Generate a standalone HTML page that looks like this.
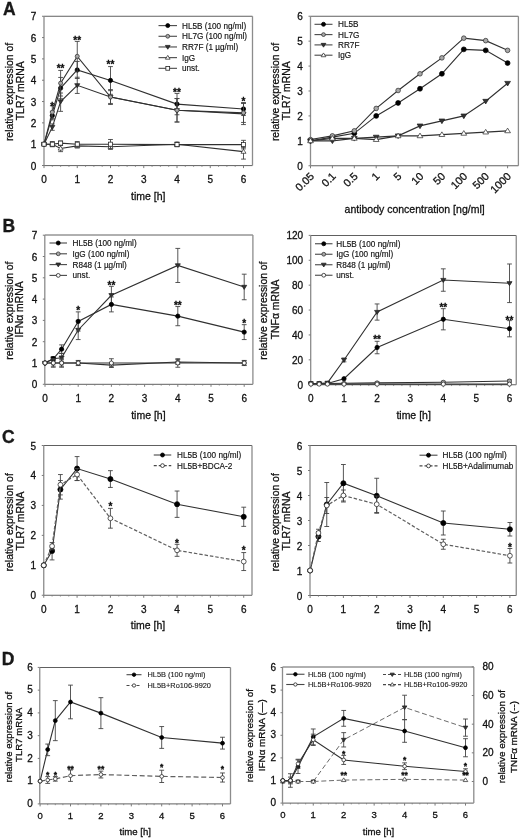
<!DOCTYPE html>
<html><head><meta charset="utf-8"><style>
html,body{margin:0;padding:0;background:#fff;}
svg{display:block;filter:grayscale(1) blur(0.4px);}
svg text{font-family:"Liberation Sans", sans-serif;stroke:#000;stroke-width:0.28px;}
</style></head><body>
<svg width="520" height="840" viewBox="0 0 520 840">
<rect width="520" height="840" fill="#fff"/>
<path d="M44,16.25 H252.5 M44,165.6 H252.5" stroke="#606060" stroke-width="1" fill="none"/>
<path d="M44,16.25 V165.6 M252.5,16.25 V165.6" stroke="#8c8c8c" stroke-width="1.3" fill="none"/>
<line x1="42" y1="165.5" x2="44" y2="165.5" stroke="#7a7a7a" stroke-width="1"/>
<text x="36.4" y="169.5" font-size="10" text-anchor="end" fill="#1a1a1a">0</text>
<line x1="42" y1="144.18" x2="44" y2="144.18" stroke="#7a7a7a" stroke-width="1"/>
<text x="36.4" y="148.18" font-size="10" text-anchor="end" fill="#1a1a1a">1</text>
<line x1="42" y1="122.86" x2="44" y2="122.86" stroke="#7a7a7a" stroke-width="1"/>
<text x="36.4" y="126.86" font-size="10" text-anchor="end" fill="#1a1a1a">2</text>
<line x1="42" y1="101.54" x2="44" y2="101.54" stroke="#7a7a7a" stroke-width="1"/>
<text x="36.4" y="105.54" font-size="10" text-anchor="end" fill="#1a1a1a">3</text>
<line x1="42" y1="80.22" x2="44" y2="80.22" stroke="#7a7a7a" stroke-width="1"/>
<text x="36.4" y="84.22" font-size="10" text-anchor="end" fill="#1a1a1a">4</text>
<line x1="42" y1="58.9" x2="44" y2="58.9" stroke="#7a7a7a" stroke-width="1"/>
<text x="36.4" y="62.9" font-size="10" text-anchor="end" fill="#1a1a1a">5</text>
<line x1="42" y1="37.58" x2="44" y2="37.58" stroke="#7a7a7a" stroke-width="1"/>
<text x="36.4" y="41.58" font-size="10" text-anchor="end" fill="#1a1a1a">6</text>
<line x1="42" y1="16.26" x2="44" y2="16.26" stroke="#7a7a7a" stroke-width="1"/>
<text x="36.4" y="20.26" font-size="10" text-anchor="end" fill="#1a1a1a">7</text>
<line x1="44" y1="165.6" x2="44" y2="168.1" stroke="#7a7a7a" stroke-width="1"/>
<text x="44" y="182.9" font-size="10" text-anchor="middle" fill="#1a1a1a">0</text>
<line x1="77.25" y1="165.6" x2="77.25" y2="168.1" stroke="#7a7a7a" stroke-width="1"/>
<text x="77.25" y="182.9" font-size="10" text-anchor="middle" fill="#1a1a1a">1</text>
<line x1="110.5" y1="165.6" x2="110.5" y2="168.1" stroke="#7a7a7a" stroke-width="1"/>
<text x="110.5" y="182.9" font-size="10" text-anchor="middle" fill="#1a1a1a">2</text>
<line x1="143.75" y1="165.6" x2="143.75" y2="168.1" stroke="#7a7a7a" stroke-width="1"/>
<text x="143.75" y="182.9" font-size="10" text-anchor="middle" fill="#1a1a1a">3</text>
<line x1="177" y1="165.6" x2="177" y2="168.1" stroke="#7a7a7a" stroke-width="1"/>
<text x="177" y="182.9" font-size="10" text-anchor="middle" fill="#1a1a1a">4</text>
<line x1="210.25" y1="165.6" x2="210.25" y2="168.1" stroke="#7a7a7a" stroke-width="1"/>
<text x="210.25" y="182.9" font-size="10" text-anchor="middle" fill="#1a1a1a">5</text>
<line x1="243.5" y1="165.6" x2="243.5" y2="168.1" stroke="#7a7a7a" stroke-width="1"/>
<text x="243.5" y="182.9" font-size="10" text-anchor="middle" fill="#1a1a1a">6</text>
<line x1="52.31" y1="165.6" x2="52.31" y2="166.9" stroke="#7a7a7a" stroke-width="0.8"/>
<line x1="60.62" y1="165.6" x2="60.62" y2="166.9" stroke="#7a7a7a" stroke-width="0.8"/>
<line x1="68.94" y1="165.6" x2="68.94" y2="166.9" stroke="#7a7a7a" stroke-width="0.8"/>
<line x1="85.56" y1="165.6" x2="85.56" y2="166.9" stroke="#7a7a7a" stroke-width="0.8"/>
<line x1="93.88" y1="165.6" x2="93.88" y2="166.9" stroke="#7a7a7a" stroke-width="0.8"/>
<line x1="102.19" y1="165.6" x2="102.19" y2="166.9" stroke="#7a7a7a" stroke-width="0.8"/>
<line x1="118.81" y1="165.6" x2="118.81" y2="166.9" stroke="#7a7a7a" stroke-width="0.8"/>
<line x1="127.12" y1="165.6" x2="127.12" y2="166.9" stroke="#7a7a7a" stroke-width="0.8"/>
<line x1="135.44" y1="165.6" x2="135.44" y2="166.9" stroke="#7a7a7a" stroke-width="0.8"/>
<line x1="152.06" y1="165.6" x2="152.06" y2="166.9" stroke="#7a7a7a" stroke-width="0.8"/>
<line x1="160.38" y1="165.6" x2="160.38" y2="166.9" stroke="#7a7a7a" stroke-width="0.8"/>
<line x1="168.69" y1="165.6" x2="168.69" y2="166.9" stroke="#7a7a7a" stroke-width="0.8"/>
<line x1="185.31" y1="165.6" x2="185.31" y2="166.9" stroke="#7a7a7a" stroke-width="0.8"/>
<line x1="193.62" y1="165.6" x2="193.62" y2="166.9" stroke="#7a7a7a" stroke-width="0.8"/>
<line x1="201.94" y1="165.6" x2="201.94" y2="166.9" stroke="#7a7a7a" stroke-width="0.8"/>
<line x1="218.56" y1="165.6" x2="218.56" y2="166.9" stroke="#7a7a7a" stroke-width="0.8"/>
<line x1="226.88" y1="165.6" x2="226.88" y2="166.9" stroke="#7a7a7a" stroke-width="0.8"/>
<line x1="235.19" y1="165.6" x2="235.19" y2="166.9" stroke="#7a7a7a" stroke-width="0.8"/>
<text x="3" y="14.5" font-size="17.5" text-anchor="start" font-weight="bold" fill="#1a1a1a">A</text>
<text transform="translate(12.9,92) rotate(-90)" font-size="10.4" text-anchor="middle" fill="#1a1a1a">relative expression of</text>
<text transform="translate(23.6,90.8) rotate(-90)" font-size="10.4" text-anchor="middle" fill="#1a1a1a">TLR7 mRNA</text>
<text x="148.2" y="200" font-size="10.5" text-anchor="middle" fill="#1a1a1a">time [h]</text>
<polyline points="44,144.18 52.31,115.61 60.62,88.11 77.25,69.99 110.5,80.43 177,104.1 243.5,109" fill="none" stroke="#303030" stroke-width="1.1"/>
<path d="M52.31,115.61 V111.35 M49.91,111.35 H54.71" stroke="#444" stroke-width="0.9" fill="none"/>
<path d="M52.31,115.61 V119.88 M49.91,119.88 H54.71" stroke="#444" stroke-width="0.9" fill="none"/>
<path d="M60.62,88.11 V77.45 M58.23,77.45 H63.02" stroke="#444" stroke-width="0.9" fill="none"/>
<path d="M60.62,88.11 V98.77 M58.23,98.77 H63.02" stroke="#444" stroke-width="0.9" fill="none"/>
<path d="M77.25,69.99 V61.46 M74.85,61.46 H79.65" stroke="#444" stroke-width="0.9" fill="none"/>
<path d="M77.25,69.99 V78.51 M74.85,78.51 H79.65" stroke="#444" stroke-width="0.9" fill="none"/>
<path d="M110.5,80.43 V66.58 M108.1,66.58 H112.9" stroke="#444" stroke-width="0.9" fill="none"/>
<path d="M110.5,80.43 V94.29 M108.1,94.29 H112.9" stroke="#444" stroke-width="0.9" fill="none"/>
<path d="M177,104.1 V93.44 M174.6,93.44 H179.4" stroke="#444" stroke-width="0.9" fill="none"/>
<path d="M177,104.1 V114.76 M174.6,114.76 H179.4" stroke="#444" stroke-width="0.9" fill="none"/>
<path d="M243.5,109 V102.61 M241.1,102.61 H245.9" stroke="#444" stroke-width="0.9" fill="none"/>
<path d="M243.5,109 V115.4 M241.1,115.4 H245.9" stroke="#444" stroke-width="0.9" fill="none"/>
<circle cx="44" cy="144.18" r="2.15" fill="#000" stroke="#000" stroke-width="0.75"/>
<circle cx="52.31" cy="115.61" r="2.15" fill="#000" stroke="#000" stroke-width="0.75"/>
<circle cx="60.62" cy="88.11" r="2.15" fill="#000" stroke="#000" stroke-width="0.75"/>
<circle cx="77.25" cy="69.99" r="2.15" fill="#000" stroke="#000" stroke-width="0.75"/>
<circle cx="110.5" cy="80.43" r="2.15" fill="#000" stroke="#000" stroke-width="0.75"/>
<circle cx="177" cy="104.1" r="2.15" fill="#000" stroke="#000" stroke-width="0.75"/>
<circle cx="243.5" cy="109" r="2.15" fill="#000" stroke="#000" stroke-width="0.75"/>
<polyline points="44,144.18 52.31,127.12 60.62,101.54 77.25,85.34 110.5,97.06 177,110.28 243.5,113.91" fill="none" stroke="#303030" stroke-width="1.1"/>
<path d="M52.31,127.12 V123.93 M49.91,123.93 H54.71" stroke="#444" stroke-width="0.9" fill="none"/>
<path d="M52.31,127.12 V130.32 M49.91,130.32 H54.71" stroke="#444" stroke-width="0.9" fill="none"/>
<path d="M60.62,101.54 V93.01 M58.23,93.01 H63.02" stroke="#444" stroke-width="0.9" fill="none"/>
<path d="M60.62,101.54 V111.35 M58.23,111.35 H63.02" stroke="#444" stroke-width="0.9" fill="none"/>
<path d="M77.25,85.34 V77.24 M74.85,77.24 H79.65" stroke="#444" stroke-width="0.9" fill="none"/>
<path d="M77.25,85.34 V93.44 M74.85,93.44 H79.65" stroke="#444" stroke-width="0.9" fill="none"/>
<path d="M110.5,97.06 V90.67 M108.1,90.67 H112.9" stroke="#444" stroke-width="0.9" fill="none"/>
<path d="M110.5,97.06 V103.46 M108.1,103.46 H112.9" stroke="#444" stroke-width="0.9" fill="none"/>
<path d="M177,110.28 V98.56 M174.6,98.56 H179.4" stroke="#444" stroke-width="0.9" fill="none"/>
<path d="M177,110.28 V122.01 M174.6,122.01 H179.4" stroke="#444" stroke-width="0.9" fill="none"/>
<path d="M243.5,113.91 V103.25 M241.1,103.25 H245.9" stroke="#444" stroke-width="0.9" fill="none"/>
<path d="M243.5,113.91 V124.57 M241.1,124.57 H245.9" stroke="#444" stroke-width="0.9" fill="none"/>
<path d="M41.47,142.53 L46.53,142.53 L44,146.6 Z" fill="#333" stroke="#222" stroke-width="0.75"/>
<path d="M49.78,125.47 L54.84,125.47 L52.31,129.54 Z" fill="#333" stroke="#222" stroke-width="0.75"/>
<path d="M58.09,99.89 L63.16,99.89 L60.62,103.96 Z" fill="#333" stroke="#222" stroke-width="0.75"/>
<path d="M74.72,83.69 L79.78,83.69 L77.25,87.76 Z" fill="#333" stroke="#222" stroke-width="0.75"/>
<path d="M107.97,95.41 L113.03,95.41 L110.5,99.48 Z" fill="#333" stroke="#222" stroke-width="0.75"/>
<path d="M174.47,108.63 L179.53,108.63 L177,112.7 Z" fill="#333" stroke="#222" stroke-width="0.75"/>
<path d="M240.97,112.26 L246.03,112.26 L243.5,116.33 Z" fill="#333" stroke="#222" stroke-width="0.75"/>
<polyline points="44,144.18 52.31,112.2 60.62,83.2 77.25,56.34 110.5,97.06 177,110.28 243.5,112.84" fill="none" stroke="#303030" stroke-width="1.1"/>
<path d="M52.31,112.2 V105.8 M49.91,105.8 H54.71" stroke="#444" stroke-width="0.9" fill="none"/>
<path d="M52.31,112.2 V118.6 M49.91,118.6 H54.71" stroke="#444" stroke-width="0.9" fill="none"/>
<path d="M60.62,83.2 V70.41 M58.23,70.41 H63.02" stroke="#444" stroke-width="0.9" fill="none"/>
<path d="M60.62,83.2 V96 M58.23,96 H63.02" stroke="#444" stroke-width="0.9" fill="none"/>
<path d="M77.25,56.34 V41.42 M74.85,41.42 H79.65" stroke="#444" stroke-width="0.9" fill="none"/>
<path d="M77.25,56.34 V71.27 M74.85,71.27 H79.65" stroke="#444" stroke-width="0.9" fill="none"/>
<path d="M110.5,97.06 V89.6 M108.1,89.6 H112.9" stroke="#444" stroke-width="0.9" fill="none"/>
<path d="M110.5,97.06 V104.52 M108.1,104.52 H112.9" stroke="#444" stroke-width="0.9" fill="none"/>
<path d="M177,110.28 V98.56 M174.6,98.56 H179.4" stroke="#444" stroke-width="0.9" fill="none"/>
<path d="M177,110.28 V122.01 M174.6,122.01 H179.4" stroke="#444" stroke-width="0.9" fill="none"/>
<path d="M243.5,112.84 V103.25 M241.1,103.25 H245.9" stroke="#444" stroke-width="0.9" fill="none"/>
<path d="M243.5,112.84 V122.43 M241.1,122.43 H245.9" stroke="#444" stroke-width="0.9" fill="none"/>
<circle cx="44" cy="144.18" r="2.04" fill="#a8a8a8" stroke="#333" stroke-width="0.75"/>
<circle cx="52.31" cy="112.2" r="2.04" fill="#a8a8a8" stroke="#333" stroke-width="0.75"/>
<circle cx="60.62" cy="83.2" r="2.04" fill="#a8a8a8" stroke="#333" stroke-width="0.75"/>
<circle cx="77.25" cy="56.34" r="2.04" fill="#a8a8a8" stroke="#333" stroke-width="0.75"/>
<circle cx="110.5" cy="97.06" r="2.04" fill="#a8a8a8" stroke="#333" stroke-width="0.75"/>
<circle cx="177" cy="110.28" r="2.04" fill="#a8a8a8" stroke="#333" stroke-width="0.75"/>
<circle cx="243.5" cy="112.84" r="2.04" fill="#a8a8a8" stroke="#333" stroke-width="0.75"/>
<polyline points="44,144.18 52.31,144.18 60.62,148.44 77.25,145.89 110.5,146.74 177,144.18 243.5,151.64" fill="none" stroke="#303030" stroke-width="1.1"/>
<path d="M52.31,144.18 V142.05 M49.91,142.05 H54.71" stroke="#444" stroke-width="0.9" fill="none"/>
<path d="M52.31,144.18 V146.31 M49.91,146.31 H54.71" stroke="#444" stroke-width="0.9" fill="none"/>
<path d="M60.62,148.44 V145.25 M58.23,145.25 H63.02" stroke="#444" stroke-width="0.9" fill="none"/>
<path d="M60.62,148.44 V151.64 M58.23,151.64 H63.02" stroke="#444" stroke-width="0.9" fill="none"/>
<path d="M77.25,145.89 V143.75 M74.85,143.75 H79.65" stroke="#444" stroke-width="0.9" fill="none"/>
<path d="M77.25,145.89 V148.02 M74.85,148.02 H79.65" stroke="#444" stroke-width="0.9" fill="none"/>
<path d="M110.5,146.74 V144.18 M108.1,144.18 H112.9" stroke="#444" stroke-width="0.9" fill="none"/>
<path d="M110.5,146.74 V149.3 M108.1,149.3 H112.9" stroke="#444" stroke-width="0.9" fill="none"/>
<path d="M177,144.18 V142.05 M174.6,142.05 H179.4" stroke="#444" stroke-width="0.9" fill="none"/>
<path d="M177,144.18 V146.31 M174.6,146.31 H179.4" stroke="#444" stroke-width="0.9" fill="none"/>
<path d="M243.5,151.64 V147.38 M241.1,147.38 H245.9" stroke="#444" stroke-width="0.9" fill="none"/>
<path d="M243.5,151.64 V159.1 M241.1,159.1 H245.9" stroke="#444" stroke-width="0.9" fill="none"/>
<path d="M41.47,145.83 L46.53,145.83 L44,141.76 Z" fill="#fff" stroke="#333" stroke-width="0.75"/>
<path d="M49.78,145.83 L54.84,145.83 L52.31,141.76 Z" fill="#fff" stroke="#333" stroke-width="0.75"/>
<path d="M58.09,150.09 L63.16,150.09 L60.62,146.02 Z" fill="#fff" stroke="#333" stroke-width="0.75"/>
<path d="M74.72,147.54 L79.78,147.54 L77.25,143.47 Z" fill="#fff" stroke="#333" stroke-width="0.75"/>
<path d="M107.97,148.39 L113.03,148.39 L110.5,144.32 Z" fill="#fff" stroke="#333" stroke-width="0.75"/>
<path d="M174.47,145.83 L179.53,145.83 L177,141.76 Z" fill="#fff" stroke="#333" stroke-width="0.75"/>
<path d="M240.97,153.29 L246.03,153.29 L243.5,149.22 Z" fill="#fff" stroke="#333" stroke-width="0.75"/>
<polyline points="44,144.18 52.31,144.18 60.62,143.11 77.25,144.18 110.5,144.18 177,144.61 243.5,144.61" fill="none" stroke="#303030" stroke-width="1.1"/>
<path d="M52.31,144.18 V141.62 M49.91,141.62 H54.71" stroke="#444" stroke-width="0.9" fill="none"/>
<path d="M52.31,144.18 V146.74 M49.91,146.74 H54.71" stroke="#444" stroke-width="0.9" fill="none"/>
<path d="M60.62,143.11 V140.98 M58.23,140.98 H63.02" stroke="#444" stroke-width="0.9" fill="none"/>
<path d="M60.62,143.11 V145.25 M58.23,145.25 H63.02" stroke="#444" stroke-width="0.9" fill="none"/>
<path d="M77.25,144.18 V141.62 M74.85,141.62 H79.65" stroke="#444" stroke-width="0.9" fill="none"/>
<path d="M77.25,144.18 V146.74 M74.85,146.74 H79.65" stroke="#444" stroke-width="0.9" fill="none"/>
<path d="M110.5,144.18 V139.49 M108.1,139.49 H112.9" stroke="#444" stroke-width="0.9" fill="none"/>
<path d="M110.5,144.18 V148.87 M108.1,148.87 H112.9" stroke="#444" stroke-width="0.9" fill="none"/>
<path d="M177,144.61 V142.47 M174.6,142.47 H179.4" stroke="#444" stroke-width="0.9" fill="none"/>
<path d="M177,144.61 V146.74 M174.6,146.74 H179.4" stroke="#444" stroke-width="0.9" fill="none"/>
<path d="M243.5,144.61 V140.34 M241.1,140.34 H245.9" stroke="#444" stroke-width="0.9" fill="none"/>
<path d="M243.5,144.61 V148.87 M241.1,148.87 H245.9" stroke="#444" stroke-width="0.9" fill="none"/>
<rect x="41.97" y="142.15" width="4.07" height="4.07" fill="#fff" stroke="#222" stroke-width="0.75"/>
<rect x="50.28" y="142.15" width="4.07" height="4.07" fill="#fff" stroke="#222" stroke-width="0.75"/>
<rect x="58.59" y="141.08" width="4.07" height="4.07" fill="#fff" stroke="#222" stroke-width="0.75"/>
<rect x="75.22" y="142.15" width="4.07" height="4.07" fill="#fff" stroke="#222" stroke-width="0.75"/>
<rect x="108.47" y="142.15" width="4.07" height="4.07" fill="#fff" stroke="#222" stroke-width="0.75"/>
<rect x="174.97" y="142.57" width="4.07" height="4.07" fill="#fff" stroke="#222" stroke-width="0.75"/>
<rect x="241.47" y="142.57" width="4.07" height="4.07" fill="#fff" stroke="#222" stroke-width="0.75"/>
<text x="52.31" y="109.7" font-size="10" font-weight="bold" text-anchor="middle" fill="#111">*</text>
<text x="60.62" y="72.4" font-size="10" font-weight="bold" text-anchor="middle" fill="#111">**</text>
<text x="77.25" y="44" font-size="10" font-weight="bold" text-anchor="middle" fill="#111">**</text>
<text x="110.5" y="68.4" font-size="10" font-weight="bold" text-anchor="middle" fill="#111">**</text>
<text x="177" y="95.5" font-size="10" font-weight="bold" text-anchor="middle" fill="#111">**</text>
<text x="243.5" y="104.5" font-size="10" font-weight="bold" text-anchor="middle" fill="#111">*</text>
<line x1="158.5" y1="25.6" x2="177" y2="25.6" stroke="#484848" stroke-width="1.1"/>
<circle cx="167.75" cy="25.6" r="2" fill="#000" stroke="#000" stroke-width="0.8"/>
<text x="182" y="28.55" font-size="8.2" fill="#1a1a1a" style="stroke-width:0.15px">HL5B (100 ng/ml)</text>
<line x1="158.5" y1="36.28" x2="177" y2="36.28" stroke="#484848" stroke-width="1.1"/>
<circle cx="167.75" cy="36.28" r="1.9" fill="#a8a8a8" stroke="#333" stroke-width="0.8"/>
<text x="182" y="39.23" font-size="8.2" fill="#1a1a1a" style="stroke-width:0.15px">HL7G (100 ng/ml)</text>
<line x1="158.5" y1="46.96" x2="177" y2="46.96" stroke="#484848" stroke-width="1.1"/>
<path d="M165.39,45.42 L170.11,45.42 L167.75,49.22 Z" fill="#333" stroke="#222" stroke-width="0.8"/>
<text x="182" y="49.91" font-size="8.2" fill="#1a1a1a" style="stroke-width:0.15px">RR7F (1 µg/ml)</text>
<line x1="158.5" y1="57.64" x2="177" y2="57.64" stroke="#484848" stroke-width="1.1"/>
<path d="M165.39,59.18 L170.11,59.18 L167.75,55.38 Z" fill="#fff" stroke="#333" stroke-width="0.8"/>
<text x="182" y="60.59" font-size="8.2" fill="#1a1a1a" style="stroke-width:0.15px">IgG</text>
<line x1="158.5" y1="68.32" x2="177" y2="68.32" stroke="#484848" stroke-width="1.1"/>
<rect x="165.85" y="66.42" width="3.79" height="3.79" fill="#fff" stroke="#222" stroke-width="0.8"/>
<text x="182" y="71.27" font-size="8.2" fill="#1a1a1a" style="stroke-width:0.15px">unst.</text>
<path d="M310.5,16.25 H518.4 M310.5,165.75 H518.4" stroke="#606060" stroke-width="1" fill="none"/>
<path d="M310.5,16.25 V165.75 M518.4,16.25 V165.75" stroke="#8c8c8c" stroke-width="1.3" fill="none"/>
<line x1="308.5" y1="165.75" x2="310.5" y2="165.75" stroke="#7a7a7a" stroke-width="1"/>
<text x="302.9" y="169.75" font-size="10" text-anchor="end" fill="#1a1a1a">0</text>
<line x1="308.5" y1="140.83" x2="310.5" y2="140.83" stroke="#7a7a7a" stroke-width="1"/>
<text x="302.9" y="144.83" font-size="10" text-anchor="end" fill="#1a1a1a">1</text>
<line x1="308.5" y1="115.91" x2="310.5" y2="115.91" stroke="#7a7a7a" stroke-width="1"/>
<text x="302.9" y="119.91" font-size="10" text-anchor="end" fill="#1a1a1a">2</text>
<line x1="308.5" y1="90.99" x2="310.5" y2="90.99" stroke="#7a7a7a" stroke-width="1"/>
<text x="302.9" y="94.99" font-size="10" text-anchor="end" fill="#1a1a1a">3</text>
<line x1="308.5" y1="66.07" x2="310.5" y2="66.07" stroke="#7a7a7a" stroke-width="1"/>
<text x="302.9" y="70.07" font-size="10" text-anchor="end" fill="#1a1a1a">4</text>
<line x1="308.5" y1="41.15" x2="310.5" y2="41.15" stroke="#7a7a7a" stroke-width="1"/>
<text x="302.9" y="45.15" font-size="10" text-anchor="end" fill="#1a1a1a">5</text>
<line x1="308.5" y1="16.23" x2="310.5" y2="16.23" stroke="#7a7a7a" stroke-width="1"/>
<text x="302.9" y="20.23" font-size="10" text-anchor="end" fill="#1a1a1a">6</text>
<line x1="310.5" y1="165.75" x2="310.5" y2="168.25" stroke="#7a7a7a" stroke-width="1"/>
<text transform="translate(309,171.25) rotate(-45)" font-size="10.8" text-anchor="end" fill="#1a1a1a" dominant-baseline="hanging">0.05</text>
<line x1="332.4" y1="165.75" x2="332.4" y2="168.25" stroke="#7a7a7a" stroke-width="1"/>
<text transform="translate(330.9,171.25) rotate(-45)" font-size="10.8" text-anchor="end" fill="#1a1a1a" dominant-baseline="hanging">0.1</text>
<line x1="354.3" y1="165.75" x2="354.3" y2="168.25" stroke="#7a7a7a" stroke-width="1"/>
<text transform="translate(352.8,171.25) rotate(-45)" font-size="10.8" text-anchor="end" fill="#1a1a1a" dominant-baseline="hanging">0.5</text>
<line x1="376.2" y1="165.75" x2="376.2" y2="168.25" stroke="#7a7a7a" stroke-width="1"/>
<text transform="translate(374.7,171.25) rotate(-45)" font-size="10.8" text-anchor="end" fill="#1a1a1a" dominant-baseline="hanging">1</text>
<line x1="398.1" y1="165.75" x2="398.1" y2="168.25" stroke="#7a7a7a" stroke-width="1"/>
<text transform="translate(396.6,171.25) rotate(-45)" font-size="10.8" text-anchor="end" fill="#1a1a1a" dominant-baseline="hanging">5</text>
<line x1="420" y1="165.75" x2="420" y2="168.25" stroke="#7a7a7a" stroke-width="1"/>
<text transform="translate(418.5,171.25) rotate(-45)" font-size="10.8" text-anchor="end" fill="#1a1a1a" dominant-baseline="hanging">10</text>
<line x1="441.9" y1="165.75" x2="441.9" y2="168.25" stroke="#7a7a7a" stroke-width="1"/>
<text transform="translate(440.4,171.25) rotate(-45)" font-size="10.8" text-anchor="end" fill="#1a1a1a" dominant-baseline="hanging">50</text>
<line x1="463.8" y1="165.75" x2="463.8" y2="168.25" stroke="#7a7a7a" stroke-width="1"/>
<text transform="translate(462.3,171.25) rotate(-45)" font-size="10.8" text-anchor="end" fill="#1a1a1a" dominant-baseline="hanging">100</text>
<line x1="485.7" y1="165.75" x2="485.7" y2="168.25" stroke="#7a7a7a" stroke-width="1"/>
<text transform="translate(484.2,171.25) rotate(-45)" font-size="10.8" text-anchor="end" fill="#1a1a1a" dominant-baseline="hanging">500</text>
<line x1="507.6" y1="165.75" x2="507.6" y2="168.25" stroke="#7a7a7a" stroke-width="1"/>
<text transform="translate(506.1,171.25) rotate(-45)" font-size="10.8" text-anchor="end" fill="#1a1a1a" dominant-baseline="hanging">1000</text>
<text transform="translate(279,92) rotate(-90)" font-size="10.4" text-anchor="middle" fill="#1a1a1a">relative expression of</text>
<text transform="translate(290,90.8) rotate(-90)" font-size="10.4" text-anchor="middle" fill="#1a1a1a">TLR7 mRNA</text>
<text x="414.6" y="213.4" font-size="10.5" text-anchor="middle" fill="#1a1a1a">antibody concentration [ng/ml]</text>
<polyline points="310.5,140.83 332.4,137.09 354.3,133.35 376.2,115.91 398.1,102.95 420,88.75 441.9,73.8 463.8,49.37 485.7,50.37 507.6,63.08" fill="none" stroke="#303030" stroke-width="1.1"/>
<circle cx="310.5" cy="140.83" r="2.44" fill="#000" stroke="#000" stroke-width="0.75"/>
<circle cx="332.4" cy="137.09" r="2.44" fill="#000" stroke="#000" stroke-width="0.75"/>
<circle cx="354.3" cy="133.35" r="2.44" fill="#000" stroke="#000" stroke-width="0.75"/>
<circle cx="376.2" cy="115.91" r="2.44" fill="#000" stroke="#000" stroke-width="0.75"/>
<circle cx="398.1" cy="102.95" r="2.44" fill="#000" stroke="#000" stroke-width="0.75"/>
<circle cx="420" cy="88.75" r="2.44" fill="#000" stroke="#000" stroke-width="0.75"/>
<circle cx="441.9" cy="73.8" r="2.44" fill="#000" stroke="#000" stroke-width="0.75"/>
<circle cx="463.8" cy="49.37" r="2.44" fill="#000" stroke="#000" stroke-width="0.75"/>
<circle cx="485.7" cy="50.37" r="2.44" fill="#000" stroke="#000" stroke-width="0.75"/>
<circle cx="507.6" cy="63.08" r="2.44" fill="#000" stroke="#000" stroke-width="0.75"/>
<polyline points="310.5,139.58 332.4,135.85 354.3,130.86 376.2,108.43 398.1,90.49 420,73.8 441.9,57.85 463.8,38.16 485.7,40.65 507.6,50.37" fill="none" stroke="#303030" stroke-width="1.1"/>
<circle cx="310.5" cy="139.58" r="2.31" fill="#a8a8a8" stroke="#333" stroke-width="0.75"/>
<circle cx="332.4" cy="135.85" r="2.31" fill="#a8a8a8" stroke="#333" stroke-width="0.75"/>
<circle cx="354.3" cy="130.86" r="2.31" fill="#a8a8a8" stroke="#333" stroke-width="0.75"/>
<circle cx="376.2" cy="108.43" r="2.31" fill="#a8a8a8" stroke="#333" stroke-width="0.75"/>
<circle cx="398.1" cy="90.49" r="2.31" fill="#a8a8a8" stroke="#333" stroke-width="0.75"/>
<circle cx="420" cy="73.8" r="2.31" fill="#a8a8a8" stroke="#333" stroke-width="0.75"/>
<circle cx="441.9" cy="57.85" r="2.31" fill="#a8a8a8" stroke="#333" stroke-width="0.75"/>
<circle cx="463.8" cy="38.16" r="2.31" fill="#a8a8a8" stroke="#333" stroke-width="0.75"/>
<circle cx="485.7" cy="40.65" r="2.31" fill="#a8a8a8" stroke="#333" stroke-width="0.75"/>
<circle cx="507.6" cy="50.37" r="2.31" fill="#a8a8a8" stroke="#333" stroke-width="0.75"/>
<polyline points="310.5,140.83 332.4,140.83 354.3,138.34 376.2,137.09 398.1,135.85 420,125.88 441.9,120.89 463.8,115.91 485.7,101.21 507.6,83.26" fill="none" stroke="#303030" stroke-width="1.1"/>
<path d="M307.62,138.95 L313.38,138.95 L310.5,143.58 Z" fill="#333" stroke="#222" stroke-width="0.75"/>
<path d="M329.52,138.95 L335.27,138.95 L332.4,143.58 Z" fill="#333" stroke="#222" stroke-width="0.75"/>
<path d="M351.43,136.46 L357.18,136.46 L354.3,141.09 Z" fill="#333" stroke="#222" stroke-width="0.75"/>
<path d="M373.32,135.22 L379.07,135.22 L376.2,139.84 Z" fill="#333" stroke="#222" stroke-width="0.75"/>
<path d="M395.23,133.97 L400.98,133.97 L398.1,138.6 Z" fill="#333" stroke="#222" stroke-width="0.75"/>
<path d="M417.12,124 L422.88,124 L420,128.63 Z" fill="#333" stroke="#222" stroke-width="0.75"/>
<path d="M439.02,119.02 L444.77,119.02 L441.9,123.64 Z" fill="#333" stroke="#222" stroke-width="0.75"/>
<path d="M460.92,114.03 L466.67,114.03 L463.8,118.66 Z" fill="#333" stroke="#222" stroke-width="0.75"/>
<path d="M482.82,99.33 L488.57,99.33 L485.7,103.96 Z" fill="#333" stroke="#222" stroke-width="0.75"/>
<path d="M504.73,81.39 L510.48,81.39 L507.6,86.01 Z" fill="#333" stroke="#222" stroke-width="0.75"/>
<polyline points="310.5,140.83 332.4,138.34 354.3,138.34 376.2,139.58 398.1,135.85 420,135.85 441.9,134.6 463.8,133.35 485.7,132.11 507.6,130.86" fill="none" stroke="#303030" stroke-width="1.1"/>
<path d="M307.62,142.7 L313.38,142.7 L310.5,138.08 Z" fill="#fff" stroke="#333" stroke-width="0.75"/>
<path d="M329.52,140.21 L335.27,140.21 L332.4,135.59 Z" fill="#fff" stroke="#333" stroke-width="0.75"/>
<path d="M351.43,140.21 L357.18,140.21 L354.3,135.59 Z" fill="#fff" stroke="#333" stroke-width="0.75"/>
<path d="M373.32,141.46 L379.07,141.46 L376.2,136.83 Z" fill="#fff" stroke="#333" stroke-width="0.75"/>
<path d="M395.23,137.72 L400.98,137.72 L398.1,133.1 Z" fill="#fff" stroke="#333" stroke-width="0.75"/>
<path d="M417.12,137.72 L422.88,137.72 L420,133.1 Z" fill="#fff" stroke="#333" stroke-width="0.75"/>
<path d="M439.02,136.47 L444.77,136.47 L441.9,131.85 Z" fill="#fff" stroke="#333" stroke-width="0.75"/>
<path d="M460.92,135.23 L466.67,135.23 L463.8,130.6 Z" fill="#fff" stroke="#333" stroke-width="0.75"/>
<path d="M482.82,133.98 L488.57,133.98 L485.7,129.36 Z" fill="#fff" stroke="#333" stroke-width="0.75"/>
<path d="M504.73,132.74 L510.48,132.74 L507.6,128.11 Z" fill="#fff" stroke="#333" stroke-width="0.75"/>
<line x1="314.5" y1="24.3" x2="332.5" y2="24.3" stroke="#484848" stroke-width="1.1"/>
<circle cx="323.5" cy="24.3" r="2" fill="#000" stroke="#000" stroke-width="0.8"/>
<text x="338" y="27.25" font-size="8.2" fill="#1a1a1a" style="stroke-width:0.15px">HL5B</text>
<line x1="314.5" y1="34.6" x2="332.5" y2="34.6" stroke="#484848" stroke-width="1.1"/>
<circle cx="323.5" cy="34.6" r="1.9" fill="#a8a8a8" stroke="#333" stroke-width="0.8"/>
<text x="338" y="37.55" font-size="8.2" fill="#1a1a1a" style="stroke-width:0.15px">HL7G</text>
<line x1="314.5" y1="44.9" x2="332.5" y2="44.9" stroke="#484848" stroke-width="1.1"/>
<path d="M321.14,43.36 L325.86,43.36 L323.5,47.16 Z" fill="#333" stroke="#222" stroke-width="0.8"/>
<text x="338" y="47.85" font-size="8.2" fill="#1a1a1a" style="stroke-width:0.15px">RR7F</text>
<line x1="314.5" y1="55.2" x2="332.5" y2="55.2" stroke="#484848" stroke-width="1.1"/>
<path d="M321.14,56.74 L325.86,56.74 L323.5,52.95 Z" fill="#fff" stroke="#333" stroke-width="0.8"/>
<text x="338" y="58.15" font-size="8.2" fill="#1a1a1a" style="stroke-width:0.15px">IgG</text>
<path d="M44.8,235 H252.9 M44.8,384.3 H252.9" stroke="#606060" stroke-width="1" fill="none"/>
<path d="M44.8,235 V384.3 M252.9,235 V384.3" stroke="#8c8c8c" stroke-width="1.3" fill="none"/>
<line x1="42.8" y1="384.3" x2="44.8" y2="384.3" stroke="#7a7a7a" stroke-width="1"/>
<text x="37.2" y="388.3" font-size="10" text-anchor="end" fill="#1a1a1a">0</text>
<line x1="42.8" y1="363" x2="44.8" y2="363" stroke="#7a7a7a" stroke-width="1"/>
<text x="37.2" y="367" font-size="10" text-anchor="end" fill="#1a1a1a">1</text>
<line x1="42.8" y1="341.7" x2="44.8" y2="341.7" stroke="#7a7a7a" stroke-width="1"/>
<text x="37.2" y="345.7" font-size="10" text-anchor="end" fill="#1a1a1a">2</text>
<line x1="42.8" y1="320.4" x2="44.8" y2="320.4" stroke="#7a7a7a" stroke-width="1"/>
<text x="37.2" y="324.4" font-size="10" text-anchor="end" fill="#1a1a1a">3</text>
<line x1="42.8" y1="299.1" x2="44.8" y2="299.1" stroke="#7a7a7a" stroke-width="1"/>
<text x="37.2" y="303.1" font-size="10" text-anchor="end" fill="#1a1a1a">4</text>
<line x1="42.8" y1="277.8" x2="44.8" y2="277.8" stroke="#7a7a7a" stroke-width="1"/>
<text x="37.2" y="281.8" font-size="10" text-anchor="end" fill="#1a1a1a">5</text>
<line x1="42.8" y1="256.5" x2="44.8" y2="256.5" stroke="#7a7a7a" stroke-width="1"/>
<text x="37.2" y="260.5" font-size="10" text-anchor="end" fill="#1a1a1a">6</text>
<line x1="42.8" y1="235.2" x2="44.8" y2="235.2" stroke="#7a7a7a" stroke-width="1"/>
<text x="37.2" y="239.2" font-size="10" text-anchor="end" fill="#1a1a1a">7</text>
<line x1="45" y1="384.3" x2="45" y2="386.8" stroke="#7a7a7a" stroke-width="1"/>
<text x="45" y="401.6" font-size="10" text-anchor="middle" fill="#1a1a1a">0</text>
<line x1="78.2" y1="384.3" x2="78.2" y2="386.8" stroke="#7a7a7a" stroke-width="1"/>
<text x="78.2" y="401.6" font-size="10" text-anchor="middle" fill="#1a1a1a">1</text>
<line x1="111.4" y1="384.3" x2="111.4" y2="386.8" stroke="#7a7a7a" stroke-width="1"/>
<text x="111.4" y="401.6" font-size="10" text-anchor="middle" fill="#1a1a1a">2</text>
<line x1="144.6" y1="384.3" x2="144.6" y2="386.8" stroke="#7a7a7a" stroke-width="1"/>
<text x="144.6" y="401.6" font-size="10" text-anchor="middle" fill="#1a1a1a">3</text>
<line x1="177.8" y1="384.3" x2="177.8" y2="386.8" stroke="#7a7a7a" stroke-width="1"/>
<text x="177.8" y="401.6" font-size="10" text-anchor="middle" fill="#1a1a1a">4</text>
<line x1="211" y1="384.3" x2="211" y2="386.8" stroke="#7a7a7a" stroke-width="1"/>
<text x="211" y="401.6" font-size="10" text-anchor="middle" fill="#1a1a1a">5</text>
<line x1="244.2" y1="384.3" x2="244.2" y2="386.8" stroke="#7a7a7a" stroke-width="1"/>
<text x="244.2" y="401.6" font-size="10" text-anchor="middle" fill="#1a1a1a">6</text>
<line x1="53.3" y1="384.3" x2="53.3" y2="385.6" stroke="#7a7a7a" stroke-width="0.8"/>
<line x1="61.6" y1="384.3" x2="61.6" y2="385.6" stroke="#7a7a7a" stroke-width="0.8"/>
<line x1="69.9" y1="384.3" x2="69.9" y2="385.6" stroke="#7a7a7a" stroke-width="0.8"/>
<line x1="86.5" y1="384.3" x2="86.5" y2="385.6" stroke="#7a7a7a" stroke-width="0.8"/>
<line x1="94.8" y1="384.3" x2="94.8" y2="385.6" stroke="#7a7a7a" stroke-width="0.8"/>
<line x1="103.1" y1="384.3" x2="103.1" y2="385.6" stroke="#7a7a7a" stroke-width="0.8"/>
<line x1="119.7" y1="384.3" x2="119.7" y2="385.6" stroke="#7a7a7a" stroke-width="0.8"/>
<line x1="128" y1="384.3" x2="128" y2="385.6" stroke="#7a7a7a" stroke-width="0.8"/>
<line x1="136.3" y1="384.3" x2="136.3" y2="385.6" stroke="#7a7a7a" stroke-width="0.8"/>
<line x1="152.9" y1="384.3" x2="152.9" y2="385.6" stroke="#7a7a7a" stroke-width="0.8"/>
<line x1="161.2" y1="384.3" x2="161.2" y2="385.6" stroke="#7a7a7a" stroke-width="0.8"/>
<line x1="169.5" y1="384.3" x2="169.5" y2="385.6" stroke="#7a7a7a" stroke-width="0.8"/>
<line x1="186.1" y1="384.3" x2="186.1" y2="385.6" stroke="#7a7a7a" stroke-width="0.8"/>
<line x1="194.4" y1="384.3" x2="194.4" y2="385.6" stroke="#7a7a7a" stroke-width="0.8"/>
<line x1="202.7" y1="384.3" x2="202.7" y2="385.6" stroke="#7a7a7a" stroke-width="0.8"/>
<line x1="219.3" y1="384.3" x2="219.3" y2="385.6" stroke="#7a7a7a" stroke-width="0.8"/>
<line x1="227.6" y1="384.3" x2="227.6" y2="385.6" stroke="#7a7a7a" stroke-width="0.8"/>
<line x1="235.9" y1="384.3" x2="235.9" y2="385.6" stroke="#7a7a7a" stroke-width="0.8"/>
<text x="2.5" y="232.3" font-size="17.5" text-anchor="start" font-weight="bold" fill="#1a1a1a">B</text>
<text transform="translate(12.6,310.6) rotate(-90)" font-size="10.4" text-anchor="middle" fill="#1a1a1a">relative expression of</text>
<text transform="translate(23.4,309.4) rotate(-90)" font-size="10.4" text-anchor="middle" fill="#1a1a1a">IFNα mRNA</text>
<text x="148.4" y="418.7" font-size="10.5" text-anchor="middle" fill="#1a1a1a">time [h]</text>
<polyline points="45,363 53.3,358.74 61.6,357.68 78.2,329.99 111.4,295.27 177.8,265.45 244.2,286.96" fill="none" stroke="#303030" stroke-width="1.1"/>
<path d="M53.3,358.74 V356.61 M50.9,356.61 H55.7" stroke="#444" stroke-width="0.9" fill="none"/>
<path d="M53.3,358.74 V360.87 M50.9,360.87 H55.7" stroke="#444" stroke-width="0.9" fill="none"/>
<path d="M61.6,357.68 V353.42 M59.2,353.42 H64" stroke="#444" stroke-width="0.9" fill="none"/>
<path d="M61.6,357.68 V361.94 M59.2,361.94 H64" stroke="#444" stroke-width="0.9" fill="none"/>
<path d="M78.2,329.99 V320.4 M75.8,320.4 H80.6" stroke="#444" stroke-width="0.9" fill="none"/>
<path d="M78.2,329.99 V339.57 M75.8,339.57 H80.6" stroke="#444" stroke-width="0.9" fill="none"/>
<path d="M111.4,295.27 V286.32 M109,286.32 H113.8" stroke="#444" stroke-width="0.9" fill="none"/>
<path d="M111.4,295.27 V304.21 M109,304.21 H113.8" stroke="#444" stroke-width="0.9" fill="none"/>
<path d="M177.8,265.45 V248.41 M175.4,248.41 H180.2" stroke="#444" stroke-width="0.9" fill="none"/>
<path d="M177.8,265.45 V282.49 M175.4,282.49 H180.2" stroke="#444" stroke-width="0.9" fill="none"/>
<path d="M244.2,286.96 V274.18 M241.8,274.18 H246.6" stroke="#444" stroke-width="0.9" fill="none"/>
<path d="M244.2,286.96 V299.74 M241.8,299.74 H246.6" stroke="#444" stroke-width="0.9" fill="none"/>
<path d="M42.47,361.35 L47.53,361.35 L45,365.42 Z" fill="#333" stroke="#222" stroke-width="0.75"/>
<path d="M50.77,357.09 L55.83,357.09 L53.3,361.16 Z" fill="#333" stroke="#222" stroke-width="0.75"/>
<path d="M59.07,356.03 L64.13,356.03 L61.6,360.1 Z" fill="#333" stroke="#222" stroke-width="0.75"/>
<path d="M75.67,328.34 L80.73,328.34 L78.2,332.41 Z" fill="#333" stroke="#222" stroke-width="0.75"/>
<path d="M108.87,293.62 L113.93,293.62 L111.4,297.69 Z" fill="#333" stroke="#222" stroke-width="0.75"/>
<path d="M175.27,263.8 L180.33,263.8 L177.8,267.87 Z" fill="#333" stroke="#222" stroke-width="0.75"/>
<path d="M241.67,285.31 L246.73,285.31 L244.2,289.38 Z" fill="#333" stroke="#222" stroke-width="0.75"/>
<polyline points="45,363 53.3,358.74 61.6,349.16 78.2,321.47 111.4,304.43 177.8,316.14 244.2,332.12" fill="none" stroke="#303030" stroke-width="1.1"/>
<path d="M53.3,358.74 V356.61 M50.9,356.61 H55.7" stroke="#444" stroke-width="0.9" fill="none"/>
<path d="M53.3,358.74 V360.87 M50.9,360.87 H55.7" stroke="#444" stroke-width="0.9" fill="none"/>
<path d="M61.6,349.16 V344.89 M59.2,344.89 H64" stroke="#444" stroke-width="0.9" fill="none"/>
<path d="M61.6,349.16 V353.42 M59.2,353.42 H64" stroke="#444" stroke-width="0.9" fill="none"/>
<path d="M78.2,321.47 V311.88 M75.8,311.88 H80.6" stroke="#444" stroke-width="0.9" fill="none"/>
<path d="M78.2,321.47 V331.05 M75.8,331.05 H80.6" stroke="#444" stroke-width="0.9" fill="none"/>
<path d="M111.4,304.43 V296.97 M109,296.97 H113.8" stroke="#444" stroke-width="0.9" fill="none"/>
<path d="M111.4,304.43 V311.88 M109,311.88 H113.8" stroke="#444" stroke-width="0.9" fill="none"/>
<path d="M177.8,316.14 V306.56 M175.4,306.56 H180.2" stroke="#444" stroke-width="0.9" fill="none"/>
<path d="M177.8,316.14 V325.73 M175.4,325.73 H180.2" stroke="#444" stroke-width="0.9" fill="none"/>
<path d="M244.2,332.12 V324.66 M241.8,324.66 H246.6" stroke="#444" stroke-width="0.9" fill="none"/>
<path d="M244.2,332.12 V339.57 M241.8,339.57 H246.6" stroke="#444" stroke-width="0.9" fill="none"/>
<circle cx="45" cy="363" r="2.15" fill="#000" stroke="#000" stroke-width="0.75"/>
<circle cx="53.3" cy="358.74" r="2.15" fill="#000" stroke="#000" stroke-width="0.75"/>
<circle cx="61.6" cy="349.16" r="2.15" fill="#000" stroke="#000" stroke-width="0.75"/>
<circle cx="78.2" cy="321.47" r="2.15" fill="#000" stroke="#000" stroke-width="0.75"/>
<circle cx="111.4" cy="304.43" r="2.15" fill="#000" stroke="#000" stroke-width="0.75"/>
<circle cx="177.8" cy="316.14" r="2.15" fill="#000" stroke="#000" stroke-width="0.75"/>
<circle cx="244.2" cy="332.12" r="2.15" fill="#000" stroke="#000" stroke-width="0.75"/>
<polyline points="45,363 53.3,363 61.6,363 78.2,363 111.4,365.13 177.8,361.94 244.2,363" fill="none" stroke="#303030" stroke-width="1.1"/>
<path d="M53.3,363 V359.81 M50.9,359.81 H55.7" stroke="#444" stroke-width="0.9" fill="none"/>
<path d="M53.3,363 V366.19 M50.9,366.19 H55.7" stroke="#444" stroke-width="0.9" fill="none"/>
<path d="M61.6,363 V359.81 M59.2,359.81 H64" stroke="#444" stroke-width="0.9" fill="none"/>
<path d="M61.6,363 V366.19 M59.2,366.19 H64" stroke="#444" stroke-width="0.9" fill="none"/>
<path d="M78.2,363 V360.87 M75.8,360.87 H80.6" stroke="#444" stroke-width="0.9" fill="none"/>
<path d="M78.2,363 V365.13 M75.8,365.13 H80.6" stroke="#444" stroke-width="0.9" fill="none"/>
<path d="M111.4,365.13 V363 M109,363 H113.8" stroke="#444" stroke-width="0.9" fill="none"/>
<path d="M111.4,365.13 V367.26 M109,367.26 H113.8" stroke="#444" stroke-width="0.9" fill="none"/>
<path d="M177.8,361.94 V359.38 M175.4,359.38 H180.2" stroke="#444" stroke-width="0.9" fill="none"/>
<path d="M177.8,361.94 V364.49 M175.4,364.49 H180.2" stroke="#444" stroke-width="0.9" fill="none"/>
<path d="M244.2,363 V360.44 M241.8,360.44 H246.6" stroke="#444" stroke-width="0.9" fill="none"/>
<path d="M244.2,363 V365.56 M241.8,365.56 H246.6" stroke="#444" stroke-width="0.9" fill="none"/>
<circle cx="45" cy="363" r="2.04" fill="#a8a8a8" stroke="#333" stroke-width="0.75"/>
<circle cx="53.3" cy="363" r="2.04" fill="#a8a8a8" stroke="#333" stroke-width="0.75"/>
<circle cx="61.6" cy="363" r="2.04" fill="#a8a8a8" stroke="#333" stroke-width="0.75"/>
<circle cx="78.2" cy="363" r="2.04" fill="#a8a8a8" stroke="#333" stroke-width="0.75"/>
<circle cx="111.4" cy="365.13" r="2.04" fill="#a8a8a8" stroke="#333" stroke-width="0.75"/>
<circle cx="177.8" cy="361.94" r="2.04" fill="#a8a8a8" stroke="#333" stroke-width="0.75"/>
<circle cx="244.2" cy="363" r="2.04" fill="#a8a8a8" stroke="#333" stroke-width="0.75"/>
<polyline points="45,363 53.3,363 61.6,363 78.2,363 111.4,363 177.8,363 244.2,363" fill="none" stroke="#303030" stroke-width="1.1"/>
<path d="M53.3,363 V358.74 M50.9,358.74 H55.7" stroke="#444" stroke-width="0.9" fill="none"/>
<path d="M53.3,363 V367.26 M50.9,367.26 H55.7" stroke="#444" stroke-width="0.9" fill="none"/>
<path d="M61.6,363 V358.74 M59.2,358.74 H64" stroke="#444" stroke-width="0.9" fill="none"/>
<path d="M61.6,363 V367.26 M59.2,367.26 H64" stroke="#444" stroke-width="0.9" fill="none"/>
<path d="M78.2,363 V360.44 M75.8,360.44 H80.6" stroke="#444" stroke-width="0.9" fill="none"/>
<path d="M78.2,363 V365.56 M75.8,365.56 H80.6" stroke="#444" stroke-width="0.9" fill="none"/>
<path d="M111.4,363 V358.74 M109,358.74 H113.8" stroke="#444" stroke-width="0.9" fill="none"/>
<path d="M111.4,363 V367.26 M109,367.26 H113.8" stroke="#444" stroke-width="0.9" fill="none"/>
<path d="M177.8,363 V358.74 M175.4,358.74 H180.2" stroke="#444" stroke-width="0.9" fill="none"/>
<path d="M177.8,363 V367.26 M175.4,367.26 H180.2" stroke="#444" stroke-width="0.9" fill="none"/>
<path d="M244.2,363 V360.87 M241.8,360.87 H246.6" stroke="#444" stroke-width="0.9" fill="none"/>
<path d="M244.2,363 V365.13 M241.8,365.13 H246.6" stroke="#444" stroke-width="0.9" fill="none"/>
<circle cx="45" cy="363" r="2.04" fill="#fff" stroke="#222" stroke-width="0.75"/>
<circle cx="53.3" cy="363" r="2.04" fill="#fff" stroke="#222" stroke-width="0.75"/>
<circle cx="61.6" cy="363" r="2.04" fill="#fff" stroke="#222" stroke-width="0.75"/>
<circle cx="78.2" cy="363" r="2.04" fill="#fff" stroke="#222" stroke-width="0.75"/>
<circle cx="111.4" cy="363" r="2.04" fill="#fff" stroke="#222" stroke-width="0.75"/>
<circle cx="177.8" cy="363" r="2.04" fill="#fff" stroke="#222" stroke-width="0.75"/>
<circle cx="244.2" cy="363" r="2.04" fill="#fff" stroke="#222" stroke-width="0.75"/>
<text x="78.2" y="314" font-size="10" font-weight="bold" text-anchor="middle" fill="#111">*</text>
<text x="111.4" y="288.5" font-size="10" font-weight="bold" text-anchor="middle" fill="#111">**</text>
<text x="177.8" y="309.3" font-size="10" font-weight="bold" text-anchor="middle" fill="#111">**</text>
<text x="244.2" y="326.9" font-size="10" font-weight="bold" text-anchor="middle" fill="#111">*</text>
<line x1="49.5" y1="243" x2="67" y2="243" stroke="#484848" stroke-width="1.1"/>
<circle cx="58.25" cy="243" r="2" fill="#000" stroke="#000" stroke-width="0.8"/>
<text x="72.5" y="245.95" font-size="8.2" fill="#1a1a1a" style="stroke-width:0.15px">HL5B (100 ng/ml)</text>
<line x1="49.5" y1="253.8" x2="67" y2="253.8" stroke="#484848" stroke-width="1.1"/>
<circle cx="58.25" cy="253.8" r="1.9" fill="#a8a8a8" stroke="#333" stroke-width="0.8"/>
<text x="72.5" y="256.75" font-size="8.2" fill="#1a1a1a" style="stroke-width:0.15px">IgG (100 ng/ml)</text>
<line x1="49.5" y1="264.6" x2="67" y2="264.6" stroke="#484848" stroke-width="1.1"/>
<path d="M55.89,263.06 L60.61,263.06 L58.25,266.86 Z" fill="#333" stroke="#222" stroke-width="0.8"/>
<text x="72.5" y="267.55" font-size="8.2" fill="#1a1a1a" style="stroke-width:0.15px">R848 (1 µg/ml)</text>
<line x1="49.5" y1="275.4" x2="67" y2="275.4" stroke="#484848" stroke-width="1.1"/>
<circle cx="58.25" cy="275.4" r="1.9" fill="#fff" stroke="#222" stroke-width="0.8"/>
<text x="72.5" y="278.35" font-size="8.2" fill="#1a1a1a" style="stroke-width:0.15px">unst.</text>
<path d="M310.7,235.5 H516.25 M310.7,384.75 H516.25" stroke="#606060" stroke-width="1" fill="none"/>
<path d="M310.7,235.5 V384.75 M516.25,235.5 V384.75" stroke="#8c8c8c" stroke-width="1.3" fill="none"/>
<line x1="308.7" y1="384.75" x2="310.7" y2="384.75" stroke="#7a7a7a" stroke-width="1"/>
<text x="303.1" y="388.75" font-size="10" text-anchor="end" fill="#1a1a1a">0</text>
<line x1="308.7" y1="359.85" x2="310.7" y2="359.85" stroke="#7a7a7a" stroke-width="1"/>
<text x="303.1" y="363.85" font-size="10" text-anchor="end" fill="#1a1a1a">20</text>
<line x1="308.7" y1="334.95" x2="310.7" y2="334.95" stroke="#7a7a7a" stroke-width="1"/>
<text x="303.1" y="338.95" font-size="10" text-anchor="end" fill="#1a1a1a">40</text>
<line x1="308.7" y1="310.05" x2="310.7" y2="310.05" stroke="#7a7a7a" stroke-width="1"/>
<text x="303.1" y="314.05" font-size="10" text-anchor="end" fill="#1a1a1a">60</text>
<line x1="308.7" y1="285.15" x2="310.7" y2="285.15" stroke="#7a7a7a" stroke-width="1"/>
<text x="303.1" y="289.15" font-size="10" text-anchor="end" fill="#1a1a1a">80</text>
<line x1="308.7" y1="260.25" x2="310.7" y2="260.25" stroke="#7a7a7a" stroke-width="1"/>
<text x="303.1" y="264.25" font-size="10" text-anchor="end" fill="#1a1a1a">100</text>
<line x1="308.7" y1="235.35" x2="310.7" y2="235.35" stroke="#7a7a7a" stroke-width="1"/>
<text x="303.1" y="239.35" font-size="10" text-anchor="end" fill="#1a1a1a">120</text>
<line x1="310.9" y1="384.75" x2="310.9" y2="387.25" stroke="#7a7a7a" stroke-width="1"/>
<text x="310.9" y="402.05" font-size="10" text-anchor="middle" fill="#1a1a1a">0</text>
<line x1="344" y1="384.75" x2="344" y2="387.25" stroke="#7a7a7a" stroke-width="1"/>
<text x="344" y="402.05" font-size="10" text-anchor="middle" fill="#1a1a1a">1</text>
<line x1="377.1" y1="384.75" x2="377.1" y2="387.25" stroke="#7a7a7a" stroke-width="1"/>
<text x="377.1" y="402.05" font-size="10" text-anchor="middle" fill="#1a1a1a">2</text>
<line x1="410.2" y1="384.75" x2="410.2" y2="387.25" stroke="#7a7a7a" stroke-width="1"/>
<text x="410.2" y="402.05" font-size="10" text-anchor="middle" fill="#1a1a1a">3</text>
<line x1="443.3" y1="384.75" x2="443.3" y2="387.25" stroke="#7a7a7a" stroke-width="1"/>
<text x="443.3" y="402.05" font-size="10" text-anchor="middle" fill="#1a1a1a">4</text>
<line x1="476.4" y1="384.75" x2="476.4" y2="387.25" stroke="#7a7a7a" stroke-width="1"/>
<text x="476.4" y="402.05" font-size="10" text-anchor="middle" fill="#1a1a1a">5</text>
<line x1="509.5" y1="384.75" x2="509.5" y2="387.25" stroke="#7a7a7a" stroke-width="1"/>
<text x="509.5" y="402.05" font-size="10" text-anchor="middle" fill="#1a1a1a">6</text>
<line x1="319.17" y1="384.75" x2="319.17" y2="386.05" stroke="#7a7a7a" stroke-width="0.8"/>
<line x1="327.45" y1="384.75" x2="327.45" y2="386.05" stroke="#7a7a7a" stroke-width="0.8"/>
<line x1="335.72" y1="384.75" x2="335.72" y2="386.05" stroke="#7a7a7a" stroke-width="0.8"/>
<line x1="352.27" y1="384.75" x2="352.27" y2="386.05" stroke="#7a7a7a" stroke-width="0.8"/>
<line x1="360.55" y1="384.75" x2="360.55" y2="386.05" stroke="#7a7a7a" stroke-width="0.8"/>
<line x1="368.82" y1="384.75" x2="368.82" y2="386.05" stroke="#7a7a7a" stroke-width="0.8"/>
<line x1="385.38" y1="384.75" x2="385.38" y2="386.05" stroke="#7a7a7a" stroke-width="0.8"/>
<line x1="393.65" y1="384.75" x2="393.65" y2="386.05" stroke="#7a7a7a" stroke-width="0.8"/>
<line x1="401.92" y1="384.75" x2="401.92" y2="386.05" stroke="#7a7a7a" stroke-width="0.8"/>
<line x1="418.47" y1="384.75" x2="418.47" y2="386.05" stroke="#7a7a7a" stroke-width="0.8"/>
<line x1="426.75" y1="384.75" x2="426.75" y2="386.05" stroke="#7a7a7a" stroke-width="0.8"/>
<line x1="435.02" y1="384.75" x2="435.02" y2="386.05" stroke="#7a7a7a" stroke-width="0.8"/>
<line x1="451.57" y1="384.75" x2="451.57" y2="386.05" stroke="#7a7a7a" stroke-width="0.8"/>
<line x1="459.85" y1="384.75" x2="459.85" y2="386.05" stroke="#7a7a7a" stroke-width="0.8"/>
<line x1="468.12" y1="384.75" x2="468.12" y2="386.05" stroke="#7a7a7a" stroke-width="0.8"/>
<line x1="484.67" y1="384.75" x2="484.67" y2="386.05" stroke="#7a7a7a" stroke-width="0.8"/>
<line x1="492.95" y1="384.75" x2="492.95" y2="386.05" stroke="#7a7a7a" stroke-width="0.8"/>
<line x1="501.23" y1="384.75" x2="501.23" y2="386.05" stroke="#7a7a7a" stroke-width="0.8"/>
<text transform="translate(266.6,310.6) rotate(-90)" font-size="10.4" text-anchor="middle" fill="#1a1a1a">relative expression of</text>
<text transform="translate(278.8,309.4) rotate(-90)" font-size="10.4" text-anchor="middle" fill="#1a1a1a">TNFα mRNA</text>
<text x="413.6" y="418.7" font-size="10.5" text-anchor="middle" fill="#1a1a1a">time [h]</text>
<polyline points="310.9,383.5 319.17,383.5 327.45,382.88 344,359.97 377.1,312.04 443.3,280.05 509.5,283.28" fill="none" stroke="#303030" stroke-width="1.1"/>
<path d="M344,359.97 V358.11 M341.6,358.11 H346.4" stroke="#444" stroke-width="0.9" fill="none"/>
<path d="M344,359.97 V361.84 M341.6,361.84 H346.4" stroke="#444" stroke-width="0.9" fill="none"/>
<path d="M377.1,312.04 V303.95 M374.7,303.95 H379.5" stroke="#444" stroke-width="0.9" fill="none"/>
<path d="M377.1,312.04 V320.13 M374.7,320.13 H379.5" stroke="#444" stroke-width="0.9" fill="none"/>
<path d="M443.3,280.05 V268.84 M440.9,268.84 H445.7" stroke="#444" stroke-width="0.9" fill="none"/>
<path d="M443.3,280.05 V291.25 M440.9,291.25 H445.7" stroke="#444" stroke-width="0.9" fill="none"/>
<path d="M509.5,283.28 V263.99 M507.1,263.99 H511.9" stroke="#444" stroke-width="0.9" fill="none"/>
<path d="M509.5,283.28 V302.58 M507.1,302.58 H511.9" stroke="#444" stroke-width="0.9" fill="none"/>
<path d="M308.37,381.86 L313.43,381.86 L310.9,385.93 Z" fill="#333" stroke="#222" stroke-width="0.75"/>
<path d="M316.64,381.86 L321.7,381.86 L319.17,385.93 Z" fill="#333" stroke="#222" stroke-width="0.75"/>
<path d="M324.92,381.23 L329.98,381.23 L327.45,385.3 Z" fill="#333" stroke="#222" stroke-width="0.75"/>
<path d="M341.47,358.32 L346.53,358.32 L344,362.39 Z" fill="#333" stroke="#222" stroke-width="0.75"/>
<path d="M374.57,310.39 L379.63,310.39 L377.1,314.46 Z" fill="#333" stroke="#222" stroke-width="0.75"/>
<path d="M440.77,278.4 L445.83,278.4 L443.3,282.47 Z" fill="#333" stroke="#222" stroke-width="0.75"/>
<path d="M506.97,281.63 L512.03,281.63 L509.5,285.7 Z" fill="#333" stroke="#222" stroke-width="0.75"/>
<polyline points="310.9,383.5 319.17,383.5 327.45,383.5 344,378.77 377.1,347.52 443.3,319.26 509.5,328.73" fill="none" stroke="#303030" stroke-width="1.1"/>
<path d="M377.1,347.52 V341.3 M374.7,341.3 H379.5" stroke="#444" stroke-width="0.9" fill="none"/>
<path d="M377.1,347.52 V353.75 M374.7,353.75 H379.5" stroke="#444" stroke-width="0.9" fill="none"/>
<path d="M443.3,319.26 V308.68 M440.9,308.68 H445.7" stroke="#444" stroke-width="0.9" fill="none"/>
<path d="M443.3,319.26 V329.85 M440.9,329.85 H445.7" stroke="#444" stroke-width="0.9" fill="none"/>
<path d="M509.5,328.73 V320.63 M507.1,320.63 H511.9" stroke="#444" stroke-width="0.9" fill="none"/>
<path d="M509.5,328.73 V336.82 M507.1,336.82 H511.9" stroke="#444" stroke-width="0.9" fill="none"/>
<circle cx="310.9" cy="383.5" r="2.15" fill="#000" stroke="#000" stroke-width="0.75"/>
<circle cx="319.17" cy="383.5" r="2.15" fill="#000" stroke="#000" stroke-width="0.75"/>
<circle cx="327.45" cy="383.5" r="2.15" fill="#000" stroke="#000" stroke-width="0.75"/>
<circle cx="344" cy="378.77" r="2.15" fill="#000" stroke="#000" stroke-width="0.75"/>
<circle cx="377.1" cy="347.52" r="2.15" fill="#000" stroke="#000" stroke-width="0.75"/>
<circle cx="443.3" cy="319.26" r="2.15" fill="#000" stroke="#000" stroke-width="0.75"/>
<circle cx="509.5" cy="328.73" r="2.15" fill="#000" stroke="#000" stroke-width="0.75"/>
<polyline points="310.9,383.5 319.17,383.5 327.45,383.5 344,383.26 377.1,382.88 443.3,382.26 509.5,381.01" fill="none" stroke="#303030" stroke-width="1.1"/>
<path d="M344,383.26 V382.63 M341.6,382.63 H346.4" stroke="#444" stroke-width="0.9" fill="none"/>
<path d="M344,383.26 V383.88 M341.6,383.88 H346.4" stroke="#444" stroke-width="0.9" fill="none"/>
<path d="M377.1,382.88 V381.89 M374.7,381.89 H379.5" stroke="#444" stroke-width="0.9" fill="none"/>
<path d="M377.1,382.88 V383.88 M374.7,383.88 H379.5" stroke="#444" stroke-width="0.9" fill="none"/>
<path d="M443.3,382.26 V381.26 M440.9,381.26 H445.7" stroke="#444" stroke-width="0.9" fill="none"/>
<path d="M443.3,382.26 V383.26 M440.9,383.26 H445.7" stroke="#444" stroke-width="0.9" fill="none"/>
<path d="M509.5,381.01 V379.77 M507.1,379.77 H511.9" stroke="#444" stroke-width="0.9" fill="none"/>
<path d="M509.5,381.01 V382.26 M507.1,382.26 H511.9" stroke="#444" stroke-width="0.9" fill="none"/>
<circle cx="310.9" cy="383.5" r="2.04" fill="#a8a8a8" stroke="#333" stroke-width="0.75"/>
<circle cx="319.17" cy="383.5" r="2.04" fill="#a8a8a8" stroke="#333" stroke-width="0.75"/>
<circle cx="327.45" cy="383.5" r="2.04" fill="#a8a8a8" stroke="#333" stroke-width="0.75"/>
<circle cx="344" cy="383.26" r="2.04" fill="#a8a8a8" stroke="#333" stroke-width="0.75"/>
<circle cx="377.1" cy="382.88" r="2.04" fill="#a8a8a8" stroke="#333" stroke-width="0.75"/>
<circle cx="443.3" cy="382.26" r="2.04" fill="#a8a8a8" stroke="#333" stroke-width="0.75"/>
<circle cx="509.5" cy="381.01" r="2.04" fill="#a8a8a8" stroke="#333" stroke-width="0.75"/>
<polyline points="310.9,384.13 319.17,384.13 327.45,384.13 344,384.13 377.1,384.13 443.3,384.13 509.5,384.13" fill="none" stroke="#303030" stroke-width="1.1"/>
<circle cx="310.9" cy="384.13" r="2.04" fill="#fff" stroke="#222" stroke-width="0.75"/>
<circle cx="319.17" cy="384.13" r="2.04" fill="#fff" stroke="#222" stroke-width="0.75"/>
<circle cx="327.45" cy="384.13" r="2.04" fill="#fff" stroke="#222" stroke-width="0.75"/>
<circle cx="344" cy="384.13" r="2.04" fill="#fff" stroke="#222" stroke-width="0.75"/>
<circle cx="377.1" cy="384.13" r="2.04" fill="#fff" stroke="#222" stroke-width="0.75"/>
<circle cx="443.3" cy="384.13" r="2.04" fill="#fff" stroke="#222" stroke-width="0.75"/>
<circle cx="509.5" cy="384.13" r="2.04" fill="#fff" stroke="#222" stroke-width="0.75"/>
<text x="377.1" y="342.5" font-size="10" font-weight="bold" text-anchor="middle" fill="#111">**</text>
<text x="443.3" y="310.5" font-size="10" font-weight="bold" text-anchor="middle" fill="#111">**</text>
<text x="509.5" y="323.5" font-size="10" font-weight="bold" text-anchor="middle" fill="#111">**</text>
<line x1="315" y1="243.75" x2="332.5" y2="243.75" stroke="#484848" stroke-width="1.1"/>
<circle cx="323.75" cy="243.75" r="2" fill="#000" stroke="#000" stroke-width="0.8"/>
<text x="336.25" y="246.7" font-size="8.2" fill="#1a1a1a" style="stroke-width:0.15px">HL5B (100 ng/ml)</text>
<line x1="315" y1="254.25" x2="332.5" y2="254.25" stroke="#484848" stroke-width="1.1"/>
<circle cx="323.75" cy="254.25" r="1.9" fill="#a8a8a8" stroke="#333" stroke-width="0.8"/>
<text x="336.25" y="257.2" font-size="8.2" fill="#1a1a1a" style="stroke-width:0.15px">IgG (100 ng/ml)</text>
<line x1="315" y1="264.75" x2="332.5" y2="264.75" stroke="#484848" stroke-width="1.1"/>
<path d="M321.39,263.21 L326.11,263.21 L323.75,267 Z" fill="#333" stroke="#222" stroke-width="0.8"/>
<text x="336.25" y="267.7" font-size="8.2" fill="#1a1a1a" style="stroke-width:0.15px">R848 (1 µg/ml)</text>
<line x1="315" y1="275.25" x2="332.5" y2="275.25" stroke="#484848" stroke-width="1.1"/>
<circle cx="323.75" cy="275.25" r="1.9" fill="#fff" stroke="#222" stroke-width="0.8"/>
<text x="336.25" y="278.2" font-size="8.2" fill="#1a1a1a" style="stroke-width:0.15px">unst.</text>
<path d="M43.75,445.5 H252 M43.75,595.25 H252" stroke="#606060" stroke-width="1" fill="none"/>
<path d="M43.75,445.5 V595.25 M252,445.5 V595.25" stroke="#8c8c8c" stroke-width="1.3" fill="none"/>
<line x1="41.75" y1="595.25" x2="43.75" y2="595.25" stroke="#7a7a7a" stroke-width="1"/>
<text x="36.15" y="599.25" font-size="10" text-anchor="end" fill="#1a1a1a">0</text>
<line x1="41.75" y1="565.3" x2="43.75" y2="565.3" stroke="#7a7a7a" stroke-width="1"/>
<text x="36.15" y="569.3" font-size="10" text-anchor="end" fill="#1a1a1a">1</text>
<line x1="41.75" y1="535.35" x2="43.75" y2="535.35" stroke="#7a7a7a" stroke-width="1"/>
<text x="36.15" y="539.35" font-size="10" text-anchor="end" fill="#1a1a1a">2</text>
<line x1="41.75" y1="505.4" x2="43.75" y2="505.4" stroke="#7a7a7a" stroke-width="1"/>
<text x="36.15" y="509.4" font-size="10" text-anchor="end" fill="#1a1a1a">3</text>
<line x1="41.75" y1="475.45" x2="43.75" y2="475.45" stroke="#7a7a7a" stroke-width="1"/>
<text x="36.15" y="479.45" font-size="10" text-anchor="end" fill="#1a1a1a">4</text>
<line x1="41.75" y1="445.5" x2="43.75" y2="445.5" stroke="#7a7a7a" stroke-width="1"/>
<text x="36.15" y="449.5" font-size="10" text-anchor="end" fill="#1a1a1a">5</text>
<line x1="43.75" y1="595.25" x2="43.75" y2="597.75" stroke="#7a7a7a" stroke-width="1"/>
<text x="43.75" y="612.55" font-size="10" text-anchor="middle" fill="#1a1a1a">0</text>
<line x1="77.08" y1="595.25" x2="77.08" y2="597.75" stroke="#7a7a7a" stroke-width="1"/>
<text x="77.08" y="612.55" font-size="10" text-anchor="middle" fill="#1a1a1a">1</text>
<line x1="110.41" y1="595.25" x2="110.41" y2="597.75" stroke="#7a7a7a" stroke-width="1"/>
<text x="110.41" y="612.55" font-size="10" text-anchor="middle" fill="#1a1a1a">2</text>
<line x1="143.74" y1="595.25" x2="143.74" y2="597.75" stroke="#7a7a7a" stroke-width="1"/>
<text x="143.74" y="612.55" font-size="10" text-anchor="middle" fill="#1a1a1a">3</text>
<line x1="177.07" y1="595.25" x2="177.07" y2="597.75" stroke="#7a7a7a" stroke-width="1"/>
<text x="177.07" y="612.55" font-size="10" text-anchor="middle" fill="#1a1a1a">4</text>
<line x1="210.4" y1="595.25" x2="210.4" y2="597.75" stroke="#7a7a7a" stroke-width="1"/>
<text x="210.4" y="612.55" font-size="10" text-anchor="middle" fill="#1a1a1a">5</text>
<line x1="243.73" y1="595.25" x2="243.73" y2="597.75" stroke="#7a7a7a" stroke-width="1"/>
<text x="243.73" y="612.55" font-size="10" text-anchor="middle" fill="#1a1a1a">6</text>
<line x1="52.08" y1="595.25" x2="52.08" y2="596.55" stroke="#7a7a7a" stroke-width="0.8"/>
<line x1="60.41" y1="595.25" x2="60.41" y2="596.55" stroke="#7a7a7a" stroke-width="0.8"/>
<line x1="68.75" y1="595.25" x2="68.75" y2="596.55" stroke="#7a7a7a" stroke-width="0.8"/>
<line x1="85.41" y1="595.25" x2="85.41" y2="596.55" stroke="#7a7a7a" stroke-width="0.8"/>
<line x1="93.75" y1="595.25" x2="93.75" y2="596.55" stroke="#7a7a7a" stroke-width="0.8"/>
<line x1="102.08" y1="595.25" x2="102.08" y2="596.55" stroke="#7a7a7a" stroke-width="0.8"/>
<line x1="118.74" y1="595.25" x2="118.74" y2="596.55" stroke="#7a7a7a" stroke-width="0.8"/>
<line x1="127.07" y1="595.25" x2="127.07" y2="596.55" stroke="#7a7a7a" stroke-width="0.8"/>
<line x1="135.41" y1="595.25" x2="135.41" y2="596.55" stroke="#7a7a7a" stroke-width="0.8"/>
<line x1="152.07" y1="595.25" x2="152.07" y2="596.55" stroke="#7a7a7a" stroke-width="0.8"/>
<line x1="160.41" y1="595.25" x2="160.41" y2="596.55" stroke="#7a7a7a" stroke-width="0.8"/>
<line x1="168.74" y1="595.25" x2="168.74" y2="596.55" stroke="#7a7a7a" stroke-width="0.8"/>
<line x1="185.4" y1="595.25" x2="185.4" y2="596.55" stroke="#7a7a7a" stroke-width="0.8"/>
<line x1="193.73" y1="595.25" x2="193.73" y2="596.55" stroke="#7a7a7a" stroke-width="0.8"/>
<line x1="202.07" y1="595.25" x2="202.07" y2="596.55" stroke="#7a7a7a" stroke-width="0.8"/>
<line x1="218.73" y1="595.25" x2="218.73" y2="596.55" stroke="#7a7a7a" stroke-width="0.8"/>
<line x1="227.06" y1="595.25" x2="227.06" y2="596.55" stroke="#7a7a7a" stroke-width="0.8"/>
<line x1="235.4" y1="595.25" x2="235.4" y2="596.55" stroke="#7a7a7a" stroke-width="0.8"/>
<text x="2" y="442.8" font-size="17.5" text-anchor="start" font-weight="bold" fill="#1a1a1a">C</text>
<text transform="translate(13,522.3) rotate(-90)" font-size="10.4" text-anchor="middle" fill="#1a1a1a">relative expression of</text>
<text transform="translate(23.6,521.1) rotate(-90)" font-size="10.4" text-anchor="middle" fill="#1a1a1a">TLR7 mRNA</text>
<text x="148" y="628.6" font-size="10.5" text-anchor="middle" fill="#1a1a1a">time [h]</text>
<polyline points="43.75,565.3 52.08,550.92 60.41,489.53 77.08,468.56 110.41,479.04 177.07,504.2 243.73,516.78" fill="none" stroke="#303030" stroke-width="1.1"/>
<path d="M52.08,550.92 V547.93 M49.68,547.93 H54.48" stroke="#444" stroke-width="0.9" fill="none"/>
<path d="M52.08,550.92 V559.91 M49.68,559.91 H54.48" stroke="#444" stroke-width="0.9" fill="none"/>
<path d="M60.41,489.53 V480.54 M58.02,480.54 H62.81" stroke="#444" stroke-width="0.9" fill="none"/>
<path d="M60.41,489.53 V499.11 M58.02,499.11 H62.81" stroke="#444" stroke-width="0.9" fill="none"/>
<path d="M77.08,468.56 V456.58 M74.68,456.58 H79.48" stroke="#444" stroke-width="0.9" fill="none"/>
<path d="M77.08,468.56 V480.54 M74.68,480.54 H79.48" stroke="#444" stroke-width="0.9" fill="none"/>
<path d="M110.41,479.04 V470.66 M108.01,470.66 H112.81" stroke="#444" stroke-width="0.9" fill="none"/>
<path d="M110.41,479.04 V487.43 M108.01,487.43 H112.81" stroke="#444" stroke-width="0.9" fill="none"/>
<path d="M177.07,504.2 V491.02 M174.67,491.02 H179.47" stroke="#444" stroke-width="0.9" fill="none"/>
<path d="M177.07,504.2 V517.38 M174.67,517.38 H179.47" stroke="#444" stroke-width="0.9" fill="none"/>
<path d="M243.73,516.78 V507.2 M241.33,507.2 H246.13" stroke="#444" stroke-width="0.9" fill="none"/>
<path d="M243.73,516.78 V526.37 M241.33,526.37 H246.13" stroke="#444" stroke-width="0.9" fill="none"/>
<circle cx="43.75" cy="565.3" r="2.54" fill="#000" stroke="#000" stroke-width="0.75"/>
<circle cx="52.08" cy="550.92" r="2.54" fill="#000" stroke="#000" stroke-width="0.75"/>
<circle cx="60.41" cy="489.53" r="2.54" fill="#000" stroke="#000" stroke-width="0.75"/>
<circle cx="77.08" cy="468.56" r="2.54" fill="#000" stroke="#000" stroke-width="0.75"/>
<circle cx="110.41" cy="479.04" r="2.54" fill="#000" stroke="#000" stroke-width="0.75"/>
<circle cx="177.07" cy="504.2" r="2.54" fill="#000" stroke="#000" stroke-width="0.75"/>
<circle cx="243.73" cy="516.78" r="2.54" fill="#000" stroke="#000" stroke-width="0.75"/>
<polyline points="43.75,565.3 52.08,546.13 60.41,484.73 77.08,474.55 110.41,518.28 177.07,550.33 243.73,561.56" fill="none" stroke="#606060" stroke-width="1.2" stroke-dasharray="3.5,1.9"/>
<path d="M52.08,546.13 V542.54 M49.68,542.54 H54.48" stroke="#444" stroke-width="0.9" fill="none"/>
<path d="M52.08,546.13 V549.73 M49.68,549.73 H54.48" stroke="#444" stroke-width="0.9" fill="none"/>
<path d="M60.41,484.73 V474.55 M58.02,474.55 H62.81" stroke="#444" stroke-width="0.9" fill="none"/>
<path d="M60.41,484.73 V494.92 M58.02,494.92 H62.81" stroke="#444" stroke-width="0.9" fill="none"/>
<path d="M77.08,474.55 V468.56 M74.68,468.56 H79.48" stroke="#444" stroke-width="0.9" fill="none"/>
<path d="M77.08,474.55 V480.54 M74.68,480.54 H79.48" stroke="#444" stroke-width="0.9" fill="none"/>
<path d="M110.41,518.28 V508.39 M108.01,508.39 H112.81" stroke="#444" stroke-width="0.9" fill="none"/>
<path d="M110.41,518.28 V528.16 M108.01,528.16 H112.81" stroke="#444" stroke-width="0.9" fill="none"/>
<path d="M177.07,550.33 V544.34 M174.67,544.34 H179.47" stroke="#444" stroke-width="0.9" fill="none"/>
<path d="M177.07,550.33 V556.32 M174.67,556.32 H179.47" stroke="#444" stroke-width="0.9" fill="none"/>
<path d="M243.73,561.56 V552.57 M241.33,552.57 H246.13" stroke="#444" stroke-width="0.9" fill="none"/>
<path d="M243.73,561.56 V570.54 M241.33,570.54 H246.13" stroke="#444" stroke-width="0.9" fill="none"/>
<circle cx="43.75" cy="565.3" r="2.41" fill="#fff" stroke="#222" stroke-width="0.75"/>
<circle cx="52.08" cy="546.13" r="2.41" fill="#fff" stroke="#222" stroke-width="0.75"/>
<circle cx="60.41" cy="484.73" r="2.41" fill="#fff" stroke="#222" stroke-width="0.75"/>
<circle cx="77.08" cy="474.55" r="2.41" fill="#fff" stroke="#222" stroke-width="0.75"/>
<circle cx="110.41" cy="518.28" r="2.41" fill="#fff" stroke="#222" stroke-width="0.75"/>
<circle cx="177.07" cy="550.33" r="2.41" fill="#fff" stroke="#222" stroke-width="0.75"/>
<circle cx="243.73" cy="561.56" r="2.41" fill="#fff" stroke="#222" stroke-width="0.75"/>
<text x="110.41" y="510.1" font-size="10" font-weight="bold" text-anchor="middle" fill="#111">*</text>
<text x="177.07" y="546.75" font-size="10" font-weight="bold" text-anchor="middle" fill="#111">*</text>
<text x="243.73" y="554.25" font-size="10" font-weight="bold" text-anchor="middle" fill="#111">*</text>
<line x1="153.75" y1="455" x2="171.25" y2="455" stroke="#484848" stroke-width="1.1"/>
<circle cx="162.5" cy="455" r="2" fill="#000" stroke="#000" stroke-width="0.8"/>
<text x="177" y="457.95" font-size="8.2" fill="#1a1a1a" style="stroke-width:0.15px">HL5B (100 ng/ml)</text>
<line x1="153.75" y1="465.6" x2="171.25" y2="465.6" stroke="#484848" stroke-width="1.1" stroke-dasharray="3,2"/>
<circle cx="162.5" cy="465.6" r="1.9" fill="#fff" stroke="#222" stroke-width="0.8"/>
<text x="177" y="468.55" font-size="8.2" fill="#1a1a1a" style="stroke-width:0.15px">HL5B+BDCA-2</text>
<path d="M310,445.5 H516.25 M310,595.5 H516.25" stroke="#606060" stroke-width="1" fill="none"/>
<path d="M310,445.5 V595.5 M516.25,445.5 V595.5" stroke="#8c8c8c" stroke-width="1.3" fill="none"/>
<line x1="308" y1="595.5" x2="310" y2="595.5" stroke="#7a7a7a" stroke-width="1"/>
<text x="302.4" y="599.5" font-size="10" text-anchor="end" fill="#1a1a1a">0</text>
<line x1="308" y1="570.5" x2="310" y2="570.5" stroke="#7a7a7a" stroke-width="1"/>
<text x="302.4" y="574.5" font-size="10" text-anchor="end" fill="#1a1a1a">1</text>
<line x1="308" y1="545.5" x2="310" y2="545.5" stroke="#7a7a7a" stroke-width="1"/>
<text x="302.4" y="549.5" font-size="10" text-anchor="end" fill="#1a1a1a">2</text>
<line x1="308" y1="520.5" x2="310" y2="520.5" stroke="#7a7a7a" stroke-width="1"/>
<text x="302.4" y="524.5" font-size="10" text-anchor="end" fill="#1a1a1a">3</text>
<line x1="308" y1="495.5" x2="310" y2="495.5" stroke="#7a7a7a" stroke-width="1"/>
<text x="302.4" y="499.5" font-size="10" text-anchor="end" fill="#1a1a1a">4</text>
<line x1="308" y1="470.5" x2="310" y2="470.5" stroke="#7a7a7a" stroke-width="1"/>
<text x="302.4" y="474.5" font-size="10" text-anchor="end" fill="#1a1a1a">5</text>
<line x1="308" y1="445.5" x2="310" y2="445.5" stroke="#7a7a7a" stroke-width="1"/>
<text x="302.4" y="449.5" font-size="10" text-anchor="end" fill="#1a1a1a">6</text>
<line x1="310.1" y1="595.5" x2="310.1" y2="598" stroke="#7a7a7a" stroke-width="1"/>
<text x="310.1" y="612.8" font-size="10" text-anchor="middle" fill="#1a1a1a">0</text>
<line x1="343.4" y1="595.5" x2="343.4" y2="598" stroke="#7a7a7a" stroke-width="1"/>
<text x="343.4" y="612.8" font-size="10" text-anchor="middle" fill="#1a1a1a">1</text>
<line x1="376.7" y1="595.5" x2="376.7" y2="598" stroke="#7a7a7a" stroke-width="1"/>
<text x="376.7" y="612.8" font-size="10" text-anchor="middle" fill="#1a1a1a">2</text>
<line x1="410" y1="595.5" x2="410" y2="598" stroke="#7a7a7a" stroke-width="1"/>
<text x="410" y="612.8" font-size="10" text-anchor="middle" fill="#1a1a1a">3</text>
<line x1="443.3" y1="595.5" x2="443.3" y2="598" stroke="#7a7a7a" stroke-width="1"/>
<text x="443.3" y="612.8" font-size="10" text-anchor="middle" fill="#1a1a1a">4</text>
<line x1="476.6" y1="595.5" x2="476.6" y2="598" stroke="#7a7a7a" stroke-width="1"/>
<text x="476.6" y="612.8" font-size="10" text-anchor="middle" fill="#1a1a1a">5</text>
<line x1="509.9" y1="595.5" x2="509.9" y2="598" stroke="#7a7a7a" stroke-width="1"/>
<text x="509.9" y="612.8" font-size="10" text-anchor="middle" fill="#1a1a1a">6</text>
<line x1="318.43" y1="595.5" x2="318.43" y2="596.8" stroke="#7a7a7a" stroke-width="0.8"/>
<line x1="326.75" y1="595.5" x2="326.75" y2="596.8" stroke="#7a7a7a" stroke-width="0.8"/>
<line x1="335.08" y1="595.5" x2="335.08" y2="596.8" stroke="#7a7a7a" stroke-width="0.8"/>
<line x1="351.73" y1="595.5" x2="351.73" y2="596.8" stroke="#7a7a7a" stroke-width="0.8"/>
<line x1="360.05" y1="595.5" x2="360.05" y2="596.8" stroke="#7a7a7a" stroke-width="0.8"/>
<line x1="368.38" y1="595.5" x2="368.38" y2="596.8" stroke="#7a7a7a" stroke-width="0.8"/>
<line x1="385.03" y1="595.5" x2="385.03" y2="596.8" stroke="#7a7a7a" stroke-width="0.8"/>
<line x1="393.35" y1="595.5" x2="393.35" y2="596.8" stroke="#7a7a7a" stroke-width="0.8"/>
<line x1="401.68" y1="595.5" x2="401.68" y2="596.8" stroke="#7a7a7a" stroke-width="0.8"/>
<line x1="418.33" y1="595.5" x2="418.33" y2="596.8" stroke="#7a7a7a" stroke-width="0.8"/>
<line x1="426.65" y1="595.5" x2="426.65" y2="596.8" stroke="#7a7a7a" stroke-width="0.8"/>
<line x1="434.98" y1="595.5" x2="434.98" y2="596.8" stroke="#7a7a7a" stroke-width="0.8"/>
<line x1="451.62" y1="595.5" x2="451.62" y2="596.8" stroke="#7a7a7a" stroke-width="0.8"/>
<line x1="459.95" y1="595.5" x2="459.95" y2="596.8" stroke="#7a7a7a" stroke-width="0.8"/>
<line x1="468.27" y1="595.5" x2="468.27" y2="596.8" stroke="#7a7a7a" stroke-width="0.8"/>
<line x1="484.93" y1="595.5" x2="484.93" y2="596.8" stroke="#7a7a7a" stroke-width="0.8"/>
<line x1="493.25" y1="595.5" x2="493.25" y2="596.8" stroke="#7a7a7a" stroke-width="0.8"/>
<line x1="501.58" y1="595.5" x2="501.58" y2="596.8" stroke="#7a7a7a" stroke-width="0.8"/>
<text transform="translate(279,522.3) rotate(-90)" font-size="10.4" text-anchor="middle" fill="#1a1a1a">relative expression of</text>
<text transform="translate(290,521.1) rotate(-90)" font-size="10.4" text-anchor="middle" fill="#1a1a1a">TLR7 mRNA</text>
<text x="413.6" y="628.6" font-size="10.5" text-anchor="middle" fill="#1a1a1a">time [h]</text>
<polyline points="310.1,570.5 318.43,536.5 326.75,504.5 343.4,483.25 376.7,495.75 443.3,523 509.9,529.25" fill="none" stroke="#303030" stroke-width="1.1"/>
<path d="M318.43,536.5 V531.5 M316.03,531.5 H320.82" stroke="#444" stroke-width="0.9" fill="none"/>
<path d="M318.43,536.5 V541.5 M316.03,541.5 H320.82" stroke="#444" stroke-width="0.9" fill="none"/>
<path d="M326.75,504.5 V482.5 M324.35,482.5 H329.15" stroke="#444" stroke-width="0.9" fill="none"/>
<path d="M326.75,504.5 V526.5 M324.35,526.5 H329.15" stroke="#444" stroke-width="0.9" fill="none"/>
<path d="M343.4,483.25 V464.5 M341,464.5 H345.8" stroke="#444" stroke-width="0.9" fill="none"/>
<path d="M343.4,483.25 V502 M341,502 H345.8" stroke="#444" stroke-width="0.9" fill="none"/>
<path d="M376.7,495.75 V478.25 M374.3,478.25 H379.1" stroke="#444" stroke-width="0.9" fill="none"/>
<path d="M376.7,495.75 V513.25 M374.3,513.25 H379.1" stroke="#444" stroke-width="0.9" fill="none"/>
<path d="M443.3,523 V511 M440.9,511 H445.7" stroke="#444" stroke-width="0.9" fill="none"/>
<path d="M443.3,523 V535 M440.9,535 H445.7" stroke="#444" stroke-width="0.9" fill="none"/>
<path d="M509.9,529.25 V522.5 M507.5,522.5 H512.3" stroke="#444" stroke-width="0.9" fill="none"/>
<path d="M509.9,529.25 V536 M507.5,536 H512.3" stroke="#444" stroke-width="0.9" fill="none"/>
<circle cx="310.1" cy="570.5" r="2.54" fill="#000" stroke="#000" stroke-width="0.75"/>
<circle cx="318.43" cy="536.5" r="2.54" fill="#000" stroke="#000" stroke-width="0.75"/>
<circle cx="326.75" cy="504.5" r="2.54" fill="#000" stroke="#000" stroke-width="0.75"/>
<circle cx="343.4" cy="483.25" r="2.54" fill="#000" stroke="#000" stroke-width="0.75"/>
<circle cx="376.7" cy="495.75" r="2.54" fill="#000" stroke="#000" stroke-width="0.75"/>
<circle cx="443.3" cy="523" r="2.54" fill="#000" stroke="#000" stroke-width="0.75"/>
<circle cx="509.9" cy="529.25" r="2.54" fill="#000" stroke="#000" stroke-width="0.75"/>
<polyline points="310.1,570.5 318.43,533 326.75,505.5 343.4,495.5 376.7,504.25 443.3,544.25 509.9,555.75" fill="none" stroke="#606060" stroke-width="1.2" stroke-dasharray="3.5,1.9"/>
<path d="M318.43,533 V529.25 M316.03,529.25 H320.82" stroke="#444" stroke-width="0.9" fill="none"/>
<path d="M318.43,533 V536.75 M316.03,536.75 H320.82" stroke="#444" stroke-width="0.9" fill="none"/>
<path d="M326.75,505.5 V497.5 M324.35,497.5 H329.15" stroke="#444" stroke-width="0.9" fill="none"/>
<path d="M326.75,505.5 V513.5 M324.35,513.5 H329.15" stroke="#444" stroke-width="0.9" fill="none"/>
<path d="M343.4,495.5 V490 M341,490 H345.8" stroke="#444" stroke-width="0.9" fill="none"/>
<path d="M343.4,495.5 V501 M341,501 H345.8" stroke="#444" stroke-width="0.9" fill="none"/>
<path d="M376.7,504.25 V496 M374.3,496 H379.1" stroke="#444" stroke-width="0.9" fill="none"/>
<path d="M376.7,504.25 V512.5 M374.3,512.5 H379.1" stroke="#444" stroke-width="0.9" fill="none"/>
<path d="M443.3,544.25 V539.25 M440.9,539.25 H445.7" stroke="#444" stroke-width="0.9" fill="none"/>
<path d="M443.3,544.25 V549.25 M440.9,549.25 H445.7" stroke="#444" stroke-width="0.9" fill="none"/>
<path d="M509.9,555.75 V548.5 M507.5,548.5 H512.3" stroke="#444" stroke-width="0.9" fill="none"/>
<path d="M509.9,555.75 V563 M507.5,563 H512.3" stroke="#444" stroke-width="0.9" fill="none"/>
<circle cx="310.1" cy="570.5" r="2.41" fill="#fff" stroke="#222" stroke-width="0.75"/>
<circle cx="318.43" cy="533" r="2.41" fill="#fff" stroke="#222" stroke-width="0.75"/>
<circle cx="326.75" cy="505.5" r="2.41" fill="#fff" stroke="#222" stroke-width="0.75"/>
<circle cx="343.4" cy="495.5" r="2.41" fill="#fff" stroke="#222" stroke-width="0.75"/>
<circle cx="376.7" cy="504.25" r="2.41" fill="#fff" stroke="#222" stroke-width="0.75"/>
<circle cx="443.3" cy="544.25" r="2.41" fill="#fff" stroke="#222" stroke-width="0.75"/>
<circle cx="509.9" cy="555.75" r="2.41" fill="#fff" stroke="#222" stroke-width="0.75"/>
<text x="509.9" y="551" font-size="10" font-weight="bold" text-anchor="middle" fill="#111">*</text>
<line x1="419.5" y1="455.2" x2="437.5" y2="455.2" stroke="#484848" stroke-width="1.1"/>
<circle cx="428.5" cy="455.2" r="2" fill="#000" stroke="#000" stroke-width="0.8"/>
<text x="442.5" y="458.15" font-size="8.2" fill="#1a1a1a" style="stroke-width:0.15px">HL5B (100 ng/ml)</text>
<line x1="419.5" y1="465.9" x2="437.5" y2="465.9" stroke="#484848" stroke-width="1.1" stroke-dasharray="3,2"/>
<circle cx="428.5" cy="465.9" r="1.9" fill="#fff" stroke="#222" stroke-width="0.8"/>
<text x="442.5" y="468.85" font-size="8.2" fill="#1a1a1a" style="stroke-width:0.15px">HL5B+Adalimumab</text>
<path d="M39.75,667.5 H230.5 M39.75,803.9 H230.5" stroke="#606060" stroke-width="1" fill="none"/>
<path d="M39.75,667.5 V803.9 M230.5,667.5 V803.9" stroke="#8c8c8c" stroke-width="1.3" fill="none"/>
<line x1="37.75" y1="803.9" x2="39.75" y2="803.9" stroke="#7a7a7a" stroke-width="1"/>
<text x="32.75" y="807" font-size="10" text-anchor="end" fill="#1a1a1a">0</text>
<line x1="37.75" y1="781.15" x2="39.75" y2="781.15" stroke="#7a7a7a" stroke-width="1"/>
<text x="32.75" y="784.25" font-size="10" text-anchor="end" fill="#1a1a1a">1</text>
<line x1="37.75" y1="758.4" x2="39.75" y2="758.4" stroke="#7a7a7a" stroke-width="1"/>
<text x="32.75" y="761.5" font-size="10" text-anchor="end" fill="#1a1a1a">2</text>
<line x1="37.75" y1="735.65" x2="39.75" y2="735.65" stroke="#7a7a7a" stroke-width="1"/>
<text x="32.75" y="738.75" font-size="10" text-anchor="end" fill="#1a1a1a">3</text>
<line x1="37.75" y1="712.9" x2="39.75" y2="712.9" stroke="#7a7a7a" stroke-width="1"/>
<text x="32.75" y="716" font-size="10" text-anchor="end" fill="#1a1a1a">4</text>
<line x1="37.75" y1="690.15" x2="39.75" y2="690.15" stroke="#7a7a7a" stroke-width="1"/>
<text x="32.75" y="693.25" font-size="10" text-anchor="end" fill="#1a1a1a">5</text>
<line x1="37.75" y1="667.4" x2="39.75" y2="667.4" stroke="#7a7a7a" stroke-width="1"/>
<text x="32.75" y="670.5" font-size="10" text-anchor="end" fill="#1a1a1a">6</text>
<line x1="40.1" y1="803.9" x2="40.1" y2="806.4" stroke="#7a7a7a" stroke-width="1"/>
<text x="40.1" y="819.1" font-size="9.5" text-anchor="middle" fill="#1a1a1a">0</text>
<line x1="70.5" y1="803.9" x2="70.5" y2="806.4" stroke="#7a7a7a" stroke-width="1"/>
<text x="70.5" y="819.1" font-size="9.5" text-anchor="middle" fill="#1a1a1a">1</text>
<line x1="100.9" y1="803.9" x2="100.9" y2="806.4" stroke="#7a7a7a" stroke-width="1"/>
<text x="100.9" y="819.1" font-size="9.5" text-anchor="middle" fill="#1a1a1a">2</text>
<line x1="131.3" y1="803.9" x2="131.3" y2="806.4" stroke="#7a7a7a" stroke-width="1"/>
<text x="131.3" y="819.1" font-size="9.5" text-anchor="middle" fill="#1a1a1a">3</text>
<line x1="161.7" y1="803.9" x2="161.7" y2="806.4" stroke="#7a7a7a" stroke-width="1"/>
<text x="161.7" y="819.1" font-size="9.5" text-anchor="middle" fill="#1a1a1a">4</text>
<line x1="192.1" y1="803.9" x2="192.1" y2="806.4" stroke="#7a7a7a" stroke-width="1"/>
<text x="192.1" y="819.1" font-size="9.5" text-anchor="middle" fill="#1a1a1a">5</text>
<line x1="222.5" y1="803.9" x2="222.5" y2="806.4" stroke="#7a7a7a" stroke-width="1"/>
<text x="222.5" y="819.1" font-size="9.5" text-anchor="middle" fill="#1a1a1a">6</text>
<line x1="47.7" y1="803.9" x2="47.7" y2="805.2" stroke="#7a7a7a" stroke-width="0.8"/>
<line x1="55.3" y1="803.9" x2="55.3" y2="805.2" stroke="#7a7a7a" stroke-width="0.8"/>
<line x1="62.9" y1="803.9" x2="62.9" y2="805.2" stroke="#7a7a7a" stroke-width="0.8"/>
<line x1="78.1" y1="803.9" x2="78.1" y2="805.2" stroke="#7a7a7a" stroke-width="0.8"/>
<line x1="85.7" y1="803.9" x2="85.7" y2="805.2" stroke="#7a7a7a" stroke-width="0.8"/>
<line x1="93.3" y1="803.9" x2="93.3" y2="805.2" stroke="#7a7a7a" stroke-width="0.8"/>
<line x1="108.5" y1="803.9" x2="108.5" y2="805.2" stroke="#7a7a7a" stroke-width="0.8"/>
<line x1="116.1" y1="803.9" x2="116.1" y2="805.2" stroke="#7a7a7a" stroke-width="0.8"/>
<line x1="123.7" y1="803.9" x2="123.7" y2="805.2" stroke="#7a7a7a" stroke-width="0.8"/>
<line x1="138.9" y1="803.9" x2="138.9" y2="805.2" stroke="#7a7a7a" stroke-width="0.8"/>
<line x1="146.5" y1="803.9" x2="146.5" y2="805.2" stroke="#7a7a7a" stroke-width="0.8"/>
<line x1="154.1" y1="803.9" x2="154.1" y2="805.2" stroke="#7a7a7a" stroke-width="0.8"/>
<line x1="169.3" y1="803.9" x2="169.3" y2="805.2" stroke="#7a7a7a" stroke-width="0.8"/>
<line x1="176.9" y1="803.9" x2="176.9" y2="805.2" stroke="#7a7a7a" stroke-width="0.8"/>
<line x1="184.5" y1="803.9" x2="184.5" y2="805.2" stroke="#7a7a7a" stroke-width="0.8"/>
<line x1="199.7" y1="803.9" x2="199.7" y2="805.2" stroke="#7a7a7a" stroke-width="0.8"/>
<line x1="207.3" y1="803.9" x2="207.3" y2="805.2" stroke="#7a7a7a" stroke-width="0.8"/>
<line x1="214.9" y1="803.9" x2="214.9" y2="805.2" stroke="#7a7a7a" stroke-width="0.8"/>
<text x="1.8" y="665" font-size="17.5" text-anchor="start" font-weight="bold" fill="#1a1a1a">D</text>
<text transform="translate(12.3,737.1) rotate(-90)" font-size="9.6" text-anchor="middle" fill="#1a1a1a">relative expression of</text>
<text transform="translate(21.9,734.7) rotate(-90)" font-size="9.6" text-anchor="middle" fill="#1a1a1a">TLR7 mRNA</text>
<text x="135.3" y="834.6" font-size="9.6" text-anchor="middle" fill="#1a1a1a">time [h]</text>
<polyline points="40.1,781.15 47.7,749.53 55.3,720.63 70.5,701.98 100.9,713.13 161.7,737.47 222.5,743.16" fill="none" stroke="#303030" stroke-width="1.1"/>
<path d="M47.7,749.53 V744.07 M45.3,744.07 H50.1" stroke="#444" stroke-width="0.9" fill="none"/>
<path d="M47.7,749.53 V755.67 M45.3,755.67 H50.1" stroke="#444" stroke-width="0.9" fill="none"/>
<path d="M55.3,720.63 V700.62 M52.9,700.62 H57.7" stroke="#444" stroke-width="0.9" fill="none"/>
<path d="M55.3,720.63 V740.65 M52.9,740.65 H57.7" stroke="#444" stroke-width="0.9" fill="none"/>
<path d="M70.5,701.98 V685.14 M68.1,685.14 H72.9" stroke="#444" stroke-width="0.9" fill="none"/>
<path d="M70.5,701.98 V718.81 M68.1,718.81 H72.9" stroke="#444" stroke-width="0.9" fill="none"/>
<path d="M100.9,713.13 V697.66 M98.5,697.66 H103.3" stroke="#444" stroke-width="0.9" fill="none"/>
<path d="M100.9,713.13 V728.6 M98.5,728.6 H103.3" stroke="#444" stroke-width="0.9" fill="none"/>
<path d="M161.7,737.47 V726.55 M159.3,726.55 H164.1" stroke="#444" stroke-width="0.9" fill="none"/>
<path d="M161.7,737.47 V748.39 M159.3,748.39 H164.1" stroke="#444" stroke-width="0.9" fill="none"/>
<path d="M222.5,743.16 V737.24 M220.1,737.24 H224.9" stroke="#444" stroke-width="0.9" fill="none"/>
<path d="M222.5,743.16 V749.07 M220.1,749.07 H224.9" stroke="#444" stroke-width="0.9" fill="none"/>
<circle cx="40.1" cy="781.15" r="1.95" fill="#000" stroke="#000" stroke-width="0.75"/>
<circle cx="47.7" cy="749.53" r="1.95" fill="#000" stroke="#000" stroke-width="0.75"/>
<circle cx="55.3" cy="720.63" r="1.95" fill="#000" stroke="#000" stroke-width="0.75"/>
<circle cx="70.5" cy="701.98" r="1.95" fill="#000" stroke="#000" stroke-width="0.75"/>
<circle cx="100.9" cy="713.13" r="1.95" fill="#000" stroke="#000" stroke-width="0.75"/>
<circle cx="161.7" cy="737.47" r="1.95" fill="#000" stroke="#000" stroke-width="0.75"/>
<circle cx="222.5" cy="743.16" r="1.95" fill="#000" stroke="#000" stroke-width="0.75"/>
<polyline points="40.1,781.15 47.7,780.01 55.3,778.88 70.5,775.69 100.9,774.55 161.7,776.37 222.5,777.51" fill="none" stroke="#606060" stroke-width="1.2" stroke-dasharray="5,2.7"/>
<path d="M47.7,780.01 V776.6 M45.3,776.6 H50.1" stroke="#444" stroke-width="0.9" fill="none"/>
<path d="M47.7,780.01 V783.42 M45.3,783.42 H50.1" stroke="#444" stroke-width="0.9" fill="none"/>
<path d="M55.3,778.88 V776.6 M52.9,776.6 H57.7" stroke="#444" stroke-width="0.9" fill="none"/>
<path d="M55.3,778.88 V781.15 M52.9,781.15 H57.7" stroke="#444" stroke-width="0.9" fill="none"/>
<path d="M70.5,775.69 V770 M68.1,770 H72.9" stroke="#444" stroke-width="0.9" fill="none"/>
<path d="M70.5,775.69 V781.38 M68.1,781.38 H72.9" stroke="#444" stroke-width="0.9" fill="none"/>
<path d="M100.9,774.55 V771.14 M98.5,771.14 H103.3" stroke="#444" stroke-width="0.9" fill="none"/>
<path d="M100.9,774.55 V777.96 M98.5,777.96 H103.3" stroke="#444" stroke-width="0.9" fill="none"/>
<path d="M161.7,776.37 V770.23 M159.3,770.23 H164.1" stroke="#444" stroke-width="0.9" fill="none"/>
<path d="M161.7,776.37 V782.51 M159.3,782.51 H164.1" stroke="#444" stroke-width="0.9" fill="none"/>
<path d="M222.5,777.51 V772.96 M220.1,772.96 H224.9" stroke="#444" stroke-width="0.9" fill="none"/>
<path d="M222.5,777.51 V782.06 M220.1,782.06 H224.9" stroke="#444" stroke-width="0.9" fill="none"/>
<circle cx="40.1" cy="781.15" r="1.85" fill="#fff" stroke="#222" stroke-width="0.75"/>
<circle cx="47.7" cy="780.01" r="1.85" fill="#fff" stroke="#222" stroke-width="0.75"/>
<circle cx="55.3" cy="778.88" r="1.85" fill="#fff" stroke="#222" stroke-width="0.75"/>
<circle cx="70.5" cy="775.69" r="1.85" fill="#fff" stroke="#222" stroke-width="0.75"/>
<circle cx="100.9" cy="774.55" r="1.85" fill="#fff" stroke="#222" stroke-width="0.75"/>
<circle cx="161.7" cy="776.37" r="1.85" fill="#fff" stroke="#222" stroke-width="0.75"/>
<circle cx="222.5" cy="777.51" r="1.85" fill="#fff" stroke="#222" stroke-width="0.75"/>
<text x="47.7" y="777.67" font-size="8.5" font-weight="bold" text-anchor="middle" fill="#111">*</text>
<text x="55.3" y="777.67" font-size="8.5" font-weight="bold" text-anchor="middle" fill="#111">*</text>
<text x="70.5" y="772.38" font-size="8.5" font-weight="bold" text-anchor="middle" fill="#111">**</text>
<text x="100.9" y="772.38" font-size="8.5" font-weight="bold" text-anchor="middle" fill="#111">**</text>
<text x="161.7" y="769.67" font-size="8.5" font-weight="bold" text-anchor="middle" fill="#111">*</text>
<text x="222.5" y="772.17" font-size="8.5" font-weight="bold" text-anchor="middle" fill="#111">*</text>
<line x1="126.5" y1="674.7" x2="141.5" y2="674.7" stroke="#484848" stroke-width="1.1"/>
<circle cx="134" cy="674.7" r="1.75" fill="#000" stroke="#000" stroke-width="0.8"/>
<text x="147.5" y="677.36" font-size="7.4" fill="#1a1a1a" style="stroke-width:0.1px">HL5B (100 ng/ml)</text>
<line x1="126.5" y1="685.5" x2="141.5" y2="685.5" stroke="#484848" stroke-width="1.1" stroke-dasharray="3,2"/>
<circle cx="134" cy="685.5" r="1.67" fill="#fff" stroke="#222" stroke-width="0.8"/>
<text x="147.5" y="688.16" font-size="7.4" fill="#1a1a1a" style="stroke-width:0.1px">HL5B+Ro106-9920</text>
<path d="M282.5,667 H473.8 M282.5,803.1 H473.8" stroke="#606060" stroke-width="1" fill="none"/>
<path d="M282.5,667 V803.1 M473.8,667 V803.1" stroke="#8c8c8c" stroke-width="1.3" fill="none"/>
<line x1="280.5" y1="803.1" x2="282.5" y2="803.1" stroke="#7a7a7a" stroke-width="1"/>
<text x="276.1" y="806.2" font-size="10" text-anchor="end" fill="#1a1a1a">0</text>
<line x1="280.5" y1="780.5" x2="282.5" y2="780.5" stroke="#7a7a7a" stroke-width="1"/>
<text x="276.1" y="783.6" font-size="10" text-anchor="end" fill="#1a1a1a">1</text>
<line x1="280.5" y1="757.9" x2="282.5" y2="757.9" stroke="#7a7a7a" stroke-width="1"/>
<text x="276.1" y="761" font-size="10" text-anchor="end" fill="#1a1a1a">2</text>
<line x1="280.5" y1="735.3" x2="282.5" y2="735.3" stroke="#7a7a7a" stroke-width="1"/>
<text x="276.1" y="738.4" font-size="10" text-anchor="end" fill="#1a1a1a">3</text>
<line x1="280.5" y1="712.7" x2="282.5" y2="712.7" stroke="#7a7a7a" stroke-width="1"/>
<text x="276.1" y="715.8" font-size="10" text-anchor="end" fill="#1a1a1a">4</text>
<line x1="280.5" y1="690.1" x2="282.5" y2="690.1" stroke="#7a7a7a" stroke-width="1"/>
<text x="276.1" y="693.2" font-size="10" text-anchor="end" fill="#1a1a1a">5</text>
<line x1="280.5" y1="667.5" x2="282.5" y2="667.5" stroke="#7a7a7a" stroke-width="1"/>
<text x="276.1" y="670.6" font-size="10" text-anchor="end" fill="#1a1a1a">6</text>
<line x1="282.8" y1="803.1" x2="282.8" y2="805.6" stroke="#7a7a7a" stroke-width="1"/>
<text x="282.8" y="818.3" font-size="9.5" text-anchor="middle" fill="#1a1a1a">0</text>
<line x1="313.25" y1="803.1" x2="313.25" y2="805.6" stroke="#7a7a7a" stroke-width="1"/>
<text x="313.25" y="818.3" font-size="9.5" text-anchor="middle" fill="#1a1a1a">1</text>
<line x1="343.7" y1="803.1" x2="343.7" y2="805.6" stroke="#7a7a7a" stroke-width="1"/>
<text x="343.7" y="818.3" font-size="9.5" text-anchor="middle" fill="#1a1a1a">2</text>
<line x1="374.15" y1="803.1" x2="374.15" y2="805.6" stroke="#7a7a7a" stroke-width="1"/>
<text x="374.15" y="818.3" font-size="9.5" text-anchor="middle" fill="#1a1a1a">3</text>
<line x1="404.6" y1="803.1" x2="404.6" y2="805.6" stroke="#7a7a7a" stroke-width="1"/>
<text x="404.6" y="818.3" font-size="9.5" text-anchor="middle" fill="#1a1a1a">4</text>
<line x1="435.05" y1="803.1" x2="435.05" y2="805.6" stroke="#7a7a7a" stroke-width="1"/>
<text x="435.05" y="818.3" font-size="9.5" text-anchor="middle" fill="#1a1a1a">5</text>
<line x1="465.5" y1="803.1" x2="465.5" y2="805.6" stroke="#7a7a7a" stroke-width="1"/>
<text x="465.5" y="818.3" font-size="9.5" text-anchor="middle" fill="#1a1a1a">6</text>
<line x1="290.41" y1="803.1" x2="290.41" y2="804.4" stroke="#7a7a7a" stroke-width="0.8"/>
<line x1="298.03" y1="803.1" x2="298.03" y2="804.4" stroke="#7a7a7a" stroke-width="0.8"/>
<line x1="305.64" y1="803.1" x2="305.64" y2="804.4" stroke="#7a7a7a" stroke-width="0.8"/>
<line x1="320.86" y1="803.1" x2="320.86" y2="804.4" stroke="#7a7a7a" stroke-width="0.8"/>
<line x1="328.48" y1="803.1" x2="328.48" y2="804.4" stroke="#7a7a7a" stroke-width="0.8"/>
<line x1="336.09" y1="803.1" x2="336.09" y2="804.4" stroke="#7a7a7a" stroke-width="0.8"/>
<line x1="351.31" y1="803.1" x2="351.31" y2="804.4" stroke="#7a7a7a" stroke-width="0.8"/>
<line x1="358.93" y1="803.1" x2="358.93" y2="804.4" stroke="#7a7a7a" stroke-width="0.8"/>
<line x1="366.54" y1="803.1" x2="366.54" y2="804.4" stroke="#7a7a7a" stroke-width="0.8"/>
<line x1="381.76" y1="803.1" x2="381.76" y2="804.4" stroke="#7a7a7a" stroke-width="0.8"/>
<line x1="389.38" y1="803.1" x2="389.38" y2="804.4" stroke="#7a7a7a" stroke-width="0.8"/>
<line x1="396.99" y1="803.1" x2="396.99" y2="804.4" stroke="#7a7a7a" stroke-width="0.8"/>
<line x1="412.21" y1="803.1" x2="412.21" y2="804.4" stroke="#7a7a7a" stroke-width="0.8"/>
<line x1="419.83" y1="803.1" x2="419.83" y2="804.4" stroke="#7a7a7a" stroke-width="0.8"/>
<line x1="427.44" y1="803.1" x2="427.44" y2="804.4" stroke="#7a7a7a" stroke-width="0.8"/>
<line x1="442.66" y1="803.1" x2="442.66" y2="804.4" stroke="#7a7a7a" stroke-width="0.8"/>
<line x1="450.27" y1="803.1" x2="450.27" y2="804.4" stroke="#7a7a7a" stroke-width="0.8"/>
<line x1="457.89" y1="803.1" x2="457.89" y2="804.4" stroke="#7a7a7a" stroke-width="0.8"/>
<line x1="471.8" y1="781.5" x2="473.8" y2="781.5" stroke="#7a7a7a" stroke-width="1"/>
<text x="482.5" y="785.1" font-size="10" text-anchor="start" fill="#1a1a1a">0</text>
<line x1="471.8" y1="752.84" x2="473.8" y2="752.84" stroke="#7a7a7a" stroke-width="1"/>
<text x="482.5" y="756.44" font-size="10" text-anchor="start" fill="#1a1a1a">20</text>
<line x1="471.8" y1="724.18" x2="473.8" y2="724.18" stroke="#7a7a7a" stroke-width="1"/>
<text x="482.5" y="727.78" font-size="10" text-anchor="start" fill="#1a1a1a">40</text>
<line x1="471.8" y1="695.52" x2="473.8" y2="695.52" stroke="#7a7a7a" stroke-width="1"/>
<text x="482.5" y="699.12" font-size="10" text-anchor="start" fill="#1a1a1a">60</text>
<line x1="471.8" y1="666.86" x2="473.8" y2="666.86" stroke="#7a7a7a" stroke-width="1"/>
<text x="482.5" y="670.46" font-size="10" text-anchor="start" fill="#1a1a1a">80</text>
<text transform="translate(253.3,735.7) rotate(-90)" font-size="9.9" text-anchor="middle" fill="#1a1a1a">relative expression of</text>
<text transform="translate(264.8,735.2) rotate(-90)" font-size="9.9" text-anchor="middle" fill="#1a1a1a">IFNα mRNA (—)</text>
<text transform="translate(505,736.7) rotate(-90)" font-size="9.9" text-anchor="middle" fill="#1a1a1a">relative expression of</text>
<text transform="translate(516.5,737) rotate(-90)" font-size="9.9" text-anchor="middle" fill="#1a1a1a">TNFα mRNA (--)</text>
<text x="378.5" y="834.6" font-size="9.6" text-anchor="middle" fill="#1a1a1a">time [h]</text>
<polyline points="282.8,781.5 290.41,781.5 298.03,781.5 313.25,781.5 343.7,739.8 404.6,707.41 465.5,727.62" fill="none" stroke="#6a6a6a" stroke-width="1.0" stroke-dasharray="5,2.7"/>
<path d="M343.7,739.8 V732.63 M341.3,732.63 H346.1" stroke="#444" stroke-width="0.9" fill="none"/>
<path d="M343.7,739.8 V746.96 M341.3,746.96 H346.1" stroke="#444" stroke-width="0.9" fill="none"/>
<path d="M404.6,707.41 V695.23 M402.2,695.23 H407" stroke="#444" stroke-width="0.9" fill="none"/>
<path d="M404.6,707.41 V719.59 M402.2,719.59 H407" stroke="#444" stroke-width="0.9" fill="none"/>
<path d="M465.5,727.62 V719.02 M463.1,719.02 H467.9" stroke="#444" stroke-width="0.9" fill="none"/>
<path d="M465.5,727.62 V736.22 M463.1,736.22 H467.9" stroke="#444" stroke-width="0.9" fill="none"/>
<path d="M280.5,780 L285.1,780 L282.8,783.7 Z" fill="#333" stroke="#222" stroke-width="0.75"/>
<path d="M288.11,780 L292.71,780 L290.41,783.7 Z" fill="#333" stroke="#222" stroke-width="0.75"/>
<path d="M295.73,780 L300.33,780 L298.03,783.7 Z" fill="#333" stroke="#222" stroke-width="0.75"/>
<path d="M310.95,780 L315.55,780 L313.25,783.7 Z" fill="#333" stroke="#222" stroke-width="0.75"/>
<path d="M341.4,738.3 L346,738.3 L343.7,742 Z" fill="#333" stroke="#222" stroke-width="0.75"/>
<path d="M402.3,705.91 L406.9,705.91 L404.6,709.61 Z" fill="#333" stroke="#222" stroke-width="0.75"/>
<path d="M463.2,726.12 L467.8,726.12 L465.5,729.82 Z" fill="#333" stroke="#222" stroke-width="0.75"/>
<polyline points="282.8,781.5 290.41,781.5 298.03,781.5 313.25,781.5 343.7,780.07 404.6,779.35 465.5,780.07" fill="none" stroke="#6a6a6a" stroke-width="1.0" stroke-dasharray="5,2.7"/>
<path d="M280.5,783 L285.1,783 L282.8,779.3 Z" fill="#fff" stroke="#333" stroke-width="0.75"/>
<path d="M288.11,783 L292.71,783 L290.41,779.3 Z" fill="#fff" stroke="#333" stroke-width="0.75"/>
<path d="M295.73,783 L300.33,783 L298.03,779.3 Z" fill="#fff" stroke="#333" stroke-width="0.75"/>
<path d="M310.95,783 L315.55,783 L313.25,779.3 Z" fill="#fff" stroke="#333" stroke-width="0.75"/>
<path d="M341.4,781.57 L346,781.57 L343.7,777.87 Z" fill="#fff" stroke="#333" stroke-width="0.75"/>
<path d="M402.3,780.85 L406.9,780.85 L404.6,777.15 Z" fill="#fff" stroke="#333" stroke-width="0.75"/>
<path d="M463.2,781.57 L467.8,781.57 L465.5,777.87 Z" fill="#fff" stroke="#333" stroke-width="0.75"/>
<polyline points="282.8,780.5 290.41,780.5 298.03,766.71 313.25,736.88 343.7,718.35 404.6,731.01 465.5,747.73" fill="none" stroke="#303030" stroke-width="1.1"/>
<path d="M290.41,780.5 V773.72 M288.01,773.72 H292.81" stroke="#444" stroke-width="0.9" fill="none"/>
<path d="M290.41,780.5 V787.28 M288.01,787.28 H292.81" stroke="#444" stroke-width="0.9" fill="none"/>
<path d="M298.03,766.71 V759.93 M295.63,759.93 H300.43" stroke="#444" stroke-width="0.9" fill="none"/>
<path d="M298.03,766.71 V773.49 M295.63,773.49 H300.43" stroke="#444" stroke-width="0.9" fill="none"/>
<path d="M313.25,736.88 V728.97 M310.85,728.97 H315.65" stroke="#444" stroke-width="0.9" fill="none"/>
<path d="M313.25,736.88 V744.79 M310.85,744.79 H315.65" stroke="#444" stroke-width="0.9" fill="none"/>
<path d="M343.7,718.35 V710.44 M341.3,710.44 H346.1" stroke="#444" stroke-width="0.9" fill="none"/>
<path d="M343.7,718.35 V726.26 M341.3,726.26 H346.1" stroke="#444" stroke-width="0.9" fill="none"/>
<path d="M404.6,731.01 V719.71 M402.2,719.71 H407" stroke="#444" stroke-width="0.9" fill="none"/>
<path d="M404.6,731.01 V742.31 M402.2,742.31 H407" stroke="#444" stroke-width="0.9" fill="none"/>
<path d="M465.5,747.73 V738.69 M463.1,738.69 H467.9" stroke="#444" stroke-width="0.9" fill="none"/>
<path d="M465.5,747.73 V756.77 M463.1,756.77 H467.9" stroke="#444" stroke-width="0.9" fill="none"/>
<circle cx="282.8" cy="780.5" r="1.95" fill="#000" stroke="#000" stroke-width="0.75"/>
<circle cx="290.41" cy="780.5" r="1.95" fill="#000" stroke="#000" stroke-width="0.75"/>
<circle cx="298.03" cy="766.71" r="1.95" fill="#000" stroke="#000" stroke-width="0.75"/>
<circle cx="313.25" cy="736.88" r="1.95" fill="#000" stroke="#000" stroke-width="0.75"/>
<circle cx="343.7" cy="718.35" r="1.95" fill="#000" stroke="#000" stroke-width="0.75"/>
<circle cx="404.6" cy="731.01" r="1.95" fill="#000" stroke="#000" stroke-width="0.75"/>
<circle cx="465.5" cy="747.73" r="1.95" fill="#000" stroke="#000" stroke-width="0.75"/>
<polyline points="282.8,780.5 290.41,780.5 298.03,763.78 313.25,739.82 343.7,759.93 404.6,766.26 465.5,771.46" fill="none" stroke="#303030" stroke-width="1.1"/>
<path d="M290.41,780.5 V777.11 M288.01,777.11 H292.81" stroke="#444" stroke-width="0.9" fill="none"/>
<path d="M290.41,780.5 V783.89 M288.01,783.89 H292.81" stroke="#444" stroke-width="0.9" fill="none"/>
<path d="M298.03,763.78 V759.26 M295.63,759.26 H300.43" stroke="#444" stroke-width="0.9" fill="none"/>
<path d="M298.03,763.78 V768.3 M295.63,768.3 H300.43" stroke="#444" stroke-width="0.9" fill="none"/>
<path d="M313.25,739.82 V734.17 M310.85,734.17 H315.65" stroke="#444" stroke-width="0.9" fill="none"/>
<path d="M313.25,739.82 V745.47 M310.85,745.47 H315.65" stroke="#444" stroke-width="0.9" fill="none"/>
<path d="M343.7,759.93 V755.41 M341.3,755.41 H346.1" stroke="#444" stroke-width="0.9" fill="none"/>
<path d="M343.7,759.93 V764.45 M341.3,764.45 H346.1" stroke="#444" stroke-width="0.9" fill="none"/>
<path d="M404.6,766.26 V762.87 M402.2,762.87 H407" stroke="#444" stroke-width="0.9" fill="none"/>
<path d="M404.6,766.26 V769.65 M402.2,769.65 H407" stroke="#444" stroke-width="0.9" fill="none"/>
<path d="M465.5,771.46 V768.75 M463.1,768.75 H467.9" stroke="#444" stroke-width="0.9" fill="none"/>
<path d="M465.5,771.46 V774.17 M463.1,774.17 H467.9" stroke="#444" stroke-width="0.9" fill="none"/>
<circle cx="282.8" cy="780.5" r="1.85" fill="#fff" stroke="#222" stroke-width="0.75"/>
<circle cx="290.41" cy="780.5" r="1.85" fill="#fff" stroke="#222" stroke-width="0.75"/>
<circle cx="298.03" cy="763.78" r="1.85" fill="#fff" stroke="#222" stroke-width="0.75"/>
<circle cx="313.25" cy="739.82" r="1.85" fill="#fff" stroke="#222" stroke-width="0.75"/>
<circle cx="343.7" cy="759.93" r="1.85" fill="#fff" stroke="#222" stroke-width="0.75"/>
<circle cx="404.6" cy="766.26" r="1.85" fill="#fff" stroke="#222" stroke-width="0.75"/>
<circle cx="465.5" cy="771.46" r="1.85" fill="#fff" stroke="#222" stroke-width="0.75"/>
<text x="343.7" y="756.67" font-size="8.5" font-weight="bold" text-anchor="middle" fill="#111">*</text>
<text x="343.7" y="778.17" font-size="8.5" font-weight="bold" text-anchor="middle" fill="#111">**</text>
<text x="404.6" y="763.17" font-size="8.5" font-weight="bold" text-anchor="middle" fill="#111">*</text>
<text x="404.6" y="777.67" font-size="8.5" font-weight="bold" text-anchor="middle" fill="#111">**</text>
<text x="465.5" y="768.67" font-size="8.5" font-weight="bold" text-anchor="middle" fill="#111">*</text>
<text x="465.5" y="777.67" font-size="8.5" font-weight="bold" text-anchor="middle" fill="#111">**</text>
<line x1="286.25" y1="674.25" x2="304.5" y2="674.25" stroke="#484848" stroke-width="1.1"/>
<circle cx="295.38" cy="674.25" r="1.75" fill="#000" stroke="#000" stroke-width="0.8"/>
<text x="308" y="676.91" font-size="7.4" fill="#1a1a1a" style="stroke-width:0.1px">HL5B (100 ng/ml)</text>
<line x1="286.25" y1="684.5" x2="304.5" y2="684.5" stroke="#484848" stroke-width="1.1"/>
<circle cx="295.38" cy="684.5" r="1.67" fill="#fff" stroke="#222" stroke-width="0.8"/>
<text x="308" y="687.16" font-size="7.4" fill="#1a1a1a" style="stroke-width:0.1px">HL5B+Ro106-9920</text>
<line x1="383" y1="674.5" x2="401.5" y2="674.5" stroke="#484848" stroke-width="1.1" stroke-dasharray="3,2"/>
<path d="M390.18,673.15 L394.32,673.15 L392.25,676.48 Z" fill="#333" stroke="#222" stroke-width="0.8"/>
<text x="404" y="677.16" font-size="7.4" fill="#1a1a1a" style="stroke-width:0.1px">HL5B (100 ng/ml)</text>
<line x1="383" y1="684.6" x2="401.5" y2="684.6" stroke="#484848" stroke-width="1.1" stroke-dasharray="3,2"/>
<path d="M390.18,685.95 L394.32,685.95 L392.25,682.62 Z" fill="#fff" stroke="#333" stroke-width="0.8"/>
<text x="404" y="687.26" font-size="7.4" fill="#1a1a1a" style="stroke-width:0.1px">HL5B+Ro106-9920</text>
</svg>
</body></html>
